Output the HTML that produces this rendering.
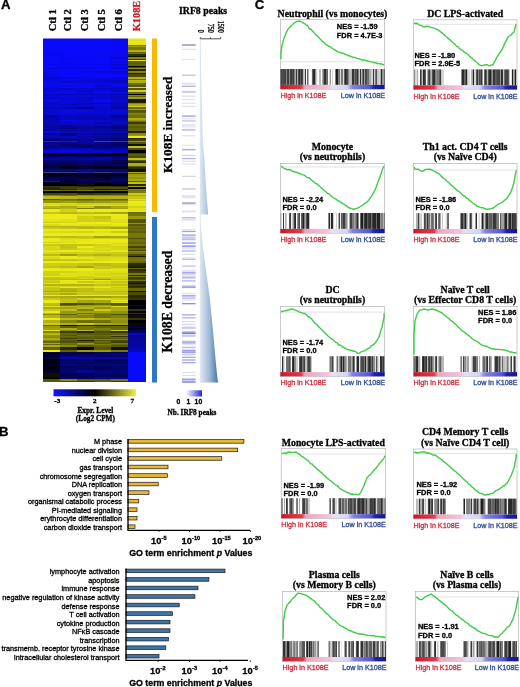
<!DOCTYPE html>
<html><head><meta charset="utf-8"><style>
html,body{margin:0;padding:0;background:#fff;width:520px;height:687px;overflow:hidden}
svg{display:block;filter:blur(0.4px)}
</style></head><body>
<svg width="520" height="687" viewBox="0 0 520 687">
<rect width="520" height="687" fill="#fff"/>
<text stroke="#000" stroke-width="0.3" x="1" y="8.7" font-family="Liberation Sans" font-weight="bold" font-size="13.2">A</text>
<text stroke="#000" stroke-width="0.3" transform="translate(55.7,31.3) rotate(-90)" font-family="Liberation Serif" font-weight="bold" font-size="10.6">Ctl 1</text>
<text stroke="#000" stroke-width="0.3" transform="translate(71.4,31.3) rotate(-90)" font-family="Liberation Serif" font-weight="bold" font-size="10.6">Ctl 2</text>
<text stroke="#000" stroke-width="0.3" transform="translate(87.9,31.3) rotate(-90)" font-family="Liberation Serif" font-weight="bold" font-size="10.6">Ctl 3</text>
<text stroke="#000" stroke-width="0.3" transform="translate(105.0,31.3) rotate(-90)" font-family="Liberation Serif" font-weight="bold" font-size="10.6">Ctl 5</text>
<text stroke="#000" stroke-width="0.3" transform="translate(121.7,31.3) rotate(-90)" font-family="Liberation Serif" font-weight="bold" font-size="10.6">Ctl 6</text>
<text stroke="#c41e24" stroke-width="0.3" transform="translate(140.4,31.3) rotate(-90)" font-family="Liberation Serif" font-weight="bold" font-size="10.4" fill="#c41e24">K108E</text>
<rect x="43" y="39" width="17" height="1" fill="#0a0afa"/>
<rect x="43" y="38.5" width="17" height="0.5" fill="#0a0afa"/>
<rect x="60" y="39" width="17" height="1" fill="#0909ee"/>
<rect x="60" y="38.5" width="17" height="0.5" fill="#0909ee"/>
<rect x="77" y="39" width="17" height="1" fill="#0a0afa"/>
<rect x="77" y="38.5" width="17" height="0.5" fill="#0a0afa"/>
<rect x="94" y="39" width="17" height="1" fill="#0a0afa"/>
<rect x="94" y="38.5" width="17" height="0.5" fill="#0a0afa"/>
<rect x="111" y="39" width="17" height="1" fill="#0808d6"/>
<rect x="111" y="38.5" width="17" height="0.5" fill="#0808d6"/>
<rect x="128" y="39" width="18" height="1" fill="#e7e718"/>
<rect x="128" y="38.5" width="18" height="0.5" fill="#e7e718"/>
<rect x="43" y="40" width="17" height="1" fill="#0a0afa"/>
<rect x="60" y="40" width="17" height="1" fill="#0a0afa"/>
<rect x="77" y="40" width="17" height="1" fill="#0a0afa"/>
<rect x="94" y="40" width="17" height="1" fill="#0a0afa"/>
<rect x="111" y="40" width="17" height="1" fill="#0909f2"/>
<rect x="128" y="40" width="18" height="1" fill="#e1e117"/>
<rect x="43" y="41" width="17" height="2" fill="#0a0afa"/>
<rect x="60" y="41" width="17" height="2" fill="#0a0afa"/>
<rect x="77" y="41" width="17" height="2" fill="#0909f4"/>
<rect x="94" y="41" width="17" height="2" fill="#0a0afa"/>
<rect x="111" y="41" width="17" height="2" fill="#0909f6"/>
<rect x="128" y="41" width="18" height="2" fill="#e8e818"/>
<rect x="43" y="43" width="17" height="2" fill="#0a0afa"/>
<rect x="60" y="43" width="17" height="2" fill="#0a0afa"/>
<rect x="77" y="43" width="17" height="2" fill="#0a0afa"/>
<rect x="94" y="43" width="17" height="2" fill="#0a0afa"/>
<rect x="111" y="43" width="17" height="2" fill="#0909f4"/>
<rect x="128" y="43" width="18" height="2" fill="#e5e518"/>
<rect x="43" y="45" width="17" height="1" fill="#0a0afa"/>
<rect x="60" y="45" width="17" height="1" fill="#0a0afa"/>
<rect x="77" y="45" width="17" height="1" fill="#0909f5"/>
<rect x="94" y="45" width="17" height="1" fill="#0a0afa"/>
<rect x="111" y="45" width="17" height="1" fill="#0909f3"/>
<rect x="128" y="45" width="18" height="1" fill="#7c7c0d"/>
<rect x="43" y="46" width="17" height="1" fill="#0a0afa"/>
<rect x="60" y="46" width="17" height="1" fill="#0a0afa"/>
<rect x="77" y="46" width="17" height="1" fill="#0a0afa"/>
<rect x="94" y="46" width="17" height="1" fill="#0a0afa"/>
<rect x="111" y="46" width="17" height="1" fill="#0a0afa"/>
<rect x="128" y="46" width="18" height="1" fill="#989810"/>
<rect x="43" y="47" width="17" height="3" fill="#0a0afa"/>
<rect x="60" y="47" width="17" height="3" fill="#0a0afa"/>
<rect x="77" y="47" width="17" height="3" fill="#0a0afa"/>
<rect x="94" y="47" width="17" height="3" fill="#0a0afa"/>
<rect x="111" y="47" width="17" height="3" fill="#0909f4"/>
<rect x="128" y="47" width="18" height="3" fill="#77770c"/>
<rect x="43" y="50" width="17" height="2" fill="#0a0afa"/>
<rect x="60" y="50" width="17" height="2" fill="#0a0afa"/>
<rect x="77" y="50" width="17" height="2" fill="#0a0afa"/>
<rect x="94" y="50" width="17" height="2" fill="#0909f9"/>
<rect x="111" y="50" width="17" height="2" fill="#0909f9"/>
<rect x="128" y="50" width="18" height="2" fill="#b3b313"/>
<rect x="43" y="52" width="17" height="1" fill="#0a0afa"/>
<rect x="60" y="52" width="17" height="1" fill="#0909f9"/>
<rect x="77" y="52" width="17" height="1" fill="#0a0afa"/>
<rect x="94" y="52" width="17" height="1" fill="#0a0afa"/>
<rect x="111" y="52" width="17" height="1" fill="#0909ec"/>
<rect x="128" y="52" width="18" height="1" fill="#62620a"/>
<rect x="43" y="53" width="17" height="1" fill="#0909f3"/>
<rect x="60" y="53" width="17" height="1" fill="#0a0afa"/>
<rect x="77" y="53" width="17" height="1" fill="#0a0afa"/>
<rect x="94" y="53" width="17" height="1" fill="#0a0afa"/>
<rect x="111" y="53" width="17" height="1" fill="#0a0afa"/>
<rect x="128" y="53" width="18" height="1" fill="#71710c"/>
<rect x="43" y="54" width="17" height="2" fill="#0909ef"/>
<rect x="60" y="54" width="17" height="2" fill="#0909f3"/>
<rect x="77" y="54" width="17" height="2" fill="#0a0afa"/>
<rect x="94" y="54" width="17" height="2" fill="#0a0afa"/>
<rect x="111" y="54" width="17" height="2" fill="#0909e9"/>
<rect x="128" y="54" width="18" height="2" fill="#2f2f05"/>
<rect x="43" y="56" width="17" height="1" fill="#0a0afa"/>
<rect x="60" y="56" width="17" height="1" fill="#0a0afa"/>
<rect x="77" y="56" width="17" height="1" fill="#0a0afa"/>
<rect x="94" y="56" width="17" height="1" fill="#0909ee"/>
<rect x="111" y="56" width="17" height="1" fill="#0909f5"/>
<rect x="128" y="56" width="18" height="1" fill="#131302"/>
<rect x="43" y="57" width="17" height="2" fill="#0a0afa"/>
<rect x="60" y="57" width="17" height="2" fill="#0909f9"/>
<rect x="77" y="57" width="17" height="2" fill="#0909f9"/>
<rect x="94" y="57" width="17" height="2" fill="#0a0afa"/>
<rect x="111" y="57" width="17" height="2" fill="#0808dc"/>
<rect x="128" y="57" width="18" height="2" fill="#84840e"/>
<rect x="43" y="59" width="17" height="1" fill="#0a0afa"/>
<rect x="60" y="59" width="17" height="1" fill="#0909f8"/>
<rect x="77" y="59" width="17" height="1" fill="#0909ef"/>
<rect x="94" y="59" width="17" height="1" fill="#0a0afa"/>
<rect x="111" y="59" width="17" height="1" fill="#0909f0"/>
<rect x="128" y="59" width="18" height="1" fill="#373705"/>
<rect x="43" y="60" width="17" height="1" fill="#0a0afa"/>
<rect x="60" y="60" width="17" height="1" fill="#0909f4"/>
<rect x="77" y="60" width="17" height="1" fill="#0a0afa"/>
<rect x="94" y="60" width="17" height="1" fill="#0909f6"/>
<rect x="111" y="60" width="17" height="1" fill="#0909f2"/>
<rect x="128" y="60" width="18" height="1" fill="#e7e718"/>
<rect x="43" y="61" width="17" height="1" fill="#0a0afa"/>
<rect x="60" y="61" width="17" height="1" fill="#0a0afa"/>
<rect x="77" y="61" width="17" height="1" fill="#0909f6"/>
<rect x="94" y="61" width="17" height="1" fill="#0a0afa"/>
<rect x="111" y="61" width="17" height="1" fill="#0909ef"/>
<rect x="128" y="61" width="18" height="1" fill="#5f5f0a"/>
<rect x="43" y="62" width="17" height="2" fill="#0a0afa"/>
<rect x="60" y="62" width="17" height="2" fill="#0909f1"/>
<rect x="77" y="62" width="17" height="2" fill="#0a0afa"/>
<rect x="94" y="62" width="17" height="2" fill="#0a0afa"/>
<rect x="111" y="62" width="17" height="2" fill="#0909eb"/>
<rect x="128" y="62" width="18" height="2" fill="#5d5d09"/>
<rect x="43" y="64" width="17" height="2" fill="#0909f4"/>
<rect x="60" y="64" width="17" height="2" fill="#0909ee"/>
<rect x="77" y="64" width="17" height="2" fill="#0909f6"/>
<rect x="94" y="64" width="17" height="2" fill="#0909f1"/>
<rect x="111" y="64" width="17" height="2" fill="#0808d7"/>
<rect x="128" y="64" width="18" height="2" fill="#64640a"/>
<rect x="43" y="66" width="17" height="1" fill="#0a0afa"/>
<rect x="60" y="66" width="17" height="1" fill="#0a0afa"/>
<rect x="77" y="66" width="17" height="1" fill="#0a0afa"/>
<rect x="94" y="66" width="17" height="1" fill="#0a0afa"/>
<rect x="111" y="66" width="17" height="1" fill="#0909f1"/>
<rect x="128" y="66" width="18" height="1" fill="#00000f"/>
<rect x="43" y="67" width="17" height="1" fill="#0a0afa"/>
<rect x="60" y="67" width="17" height="1" fill="#0808d6"/>
<rect x="77" y="67" width="17" height="1" fill="#0909eb"/>
<rect x="94" y="67" width="17" height="1" fill="#0909e6"/>
<rect x="111" y="67" width="17" height="1" fill="#0909e7"/>
<rect x="128" y="67" width="18" height="1" fill="#515108"/>
<rect x="43" y="68" width="17" height="1" fill="#0808d8"/>
<rect x="60" y="68" width="17" height="1" fill="#0909f1"/>
<rect x="77" y="68" width="17" height="1" fill="#0909e8"/>
<rect x="94" y="68" width="17" height="1" fill="#0a0afa"/>
<rect x="111" y="68" width="17" height="1" fill="#0808ca"/>
<rect x="128" y="68" width="18" height="1" fill="#90900f"/>
<rect x="43" y="69" width="17" height="2" fill="#0a0afa"/>
<rect x="60" y="69" width="17" height="2" fill="#0a0afa"/>
<rect x="77" y="69" width="17" height="2" fill="#0a0afa"/>
<rect x="94" y="69" width="17" height="2" fill="#0a0afa"/>
<rect x="111" y="69" width="17" height="2" fill="#0a0afa"/>
<rect x="128" y="69" width="18" height="2" fill="#242403"/>
<rect x="43" y="71" width="17" height="2" fill="#0909f2"/>
<rect x="60" y="71" width="17" height="2" fill="#0a0afa"/>
<rect x="77" y="71" width="17" height="2" fill="#0909ea"/>
<rect x="94" y="71" width="17" height="2" fill="#0909e7"/>
<rect x="111" y="71" width="17" height="2" fill="#0808d1"/>
<rect x="128" y="71" width="18" height="2" fill="#83830e"/>
<rect x="43" y="73" width="17" height="1" fill="#0808e0"/>
<rect x="60" y="73" width="17" height="1" fill="#0909f6"/>
<rect x="77" y="73" width="17" height="1" fill="#0909f4"/>
<rect x="94" y="73" width="17" height="1" fill="#0909f4"/>
<rect x="111" y="73" width="17" height="1" fill="#0808dc"/>
<rect x="128" y="73" width="18" height="1" fill="#252503"/>
<rect x="43" y="74" width="17" height="3" fill="#0909e7"/>
<rect x="60" y="74" width="17" height="3" fill="#0a0afa"/>
<rect x="77" y="74" width="17" height="3" fill="#0a0afa"/>
<rect x="94" y="74" width="17" height="3" fill="#0a0afa"/>
<rect x="111" y="74" width="17" height="3" fill="#0a0afa"/>
<rect x="128" y="74" width="18" height="3" fill="#4c4c08"/>
<rect x="43" y="77" width="17" height="2" fill="#0808d3"/>
<rect x="60" y="77" width="17" height="2" fill="#0808de"/>
<rect x="77" y="77" width="17" height="2" fill="#0909e6"/>
<rect x="94" y="77" width="17" height="2" fill="#0909e1"/>
<rect x="111" y="77" width="17" height="2" fill="#0808d6"/>
<rect x="128" y="77" width="18" height="2" fill="#b4b413"/>
<rect x="43" y="79" width="17" height="1" fill="#0808da"/>
<rect x="60" y="79" width="17" height="1" fill="#0a0afa"/>
<rect x="77" y="79" width="17" height="1" fill="#0909e4"/>
<rect x="94" y="79" width="17" height="1" fill="#0808d8"/>
<rect x="111" y="79" width="17" height="1" fill="#0808d9"/>
<rect x="128" y="79" width="18" height="1" fill="#68680b"/>
<rect x="43" y="80" width="17" height="1" fill="#0909e2"/>
<rect x="60" y="80" width="17" height="1" fill="#0909e1"/>
<rect x="77" y="80" width="17" height="1" fill="#0808cf"/>
<rect x="94" y="80" width="17" height="1" fill="#0808d2"/>
<rect x="111" y="80" width="17" height="1" fill="#0707c4"/>
<rect x="128" y="80" width="18" height="1" fill="#b7b713"/>
<rect x="43" y="81" width="17" height="2" fill="#0909e2"/>
<rect x="60" y="81" width="17" height="2" fill="#0808cd"/>
<rect x="77" y="81" width="17" height="2" fill="#0808d8"/>
<rect x="94" y="81" width="17" height="2" fill="#0808dc"/>
<rect x="111" y="81" width="17" height="2" fill="#0808cd"/>
<rect x="128" y="81" width="18" height="2" fill="#aeae12"/>
<rect x="43" y="83" width="17" height="2" fill="#0909f9"/>
<rect x="60" y="83" width="17" height="2" fill="#0a0afa"/>
<rect x="77" y="83" width="17" height="2" fill="#0909f6"/>
<rect x="94" y="83" width="17" height="2" fill="#0909e4"/>
<rect x="111" y="83" width="17" height="2" fill="#0909ef"/>
<rect x="128" y="83" width="18" height="2" fill="#6b6b0b"/>
<rect x="43" y="85" width="17" height="2" fill="#0909e2"/>
<rect x="60" y="85" width="17" height="2" fill="#0909e4"/>
<rect x="77" y="85" width="17" height="2" fill="#0909eb"/>
<rect x="94" y="85" width="17" height="2" fill="#0808d5"/>
<rect x="111" y="85" width="17" height="2" fill="#0909e2"/>
<rect x="128" y="85" width="18" height="2" fill="#5a5a09"/>
<rect x="43" y="87" width="17" height="1" fill="#0808da"/>
<rect x="60" y="87" width="17" height="1" fill="#0a0afa"/>
<rect x="77" y="87" width="17" height="1" fill="#0909f1"/>
<rect x="94" y="87" width="17" height="1" fill="#0909e5"/>
<rect x="111" y="87" width="17" height="1" fill="#0808cf"/>
<rect x="128" y="87" width="18" height="1" fill="#dcdc17"/>
<rect x="43" y="88" width="17" height="2" fill="#0808d4"/>
<rect x="60" y="88" width="17" height="2" fill="#0808c8"/>
<rect x="77" y="88" width="17" height="2" fill="#0808cf"/>
<rect x="94" y="88" width="17" height="2" fill="#0808cc"/>
<rect x="111" y="88" width="17" height="2" fill="#0707c0"/>
<rect x="128" y="88" width="18" height="2" fill="#555509"/>
<rect x="43" y="90" width="17" height="2" fill="#0808d4"/>
<rect x="60" y="90" width="17" height="2" fill="#0909e8"/>
<rect x="77" y="90" width="17" height="2" fill="#0808cc"/>
<rect x="94" y="90" width="17" height="2" fill="#0909e7"/>
<rect x="111" y="90" width="17" height="2" fill="#0707c6"/>
<rect x="128" y="90" width="18" height="2" fill="#d0d016"/>
<rect x="43" y="92" width="17" height="2" fill="#0909ef"/>
<rect x="60" y="92" width="17" height="2" fill="#0909ec"/>
<rect x="77" y="92" width="17" height="2" fill="#0808de"/>
<rect x="94" y="92" width="17" height="2" fill="#0909ec"/>
<rect x="111" y="92" width="17" height="2" fill="#0909e5"/>
<rect x="128" y="92" width="18" height="2" fill="#6b6b0b"/>
<rect x="43" y="94" width="17" height="1" fill="#0707c5"/>
<rect x="60" y="94" width="17" height="1" fill="#0707b6"/>
<rect x="77" y="94" width="17" height="1" fill="#0707be"/>
<rect x="94" y="94" width="17" height="1" fill="#0707bf"/>
<rect x="111" y="94" width="17" height="1" fill="#0606ad"/>
<rect x="128" y="94" width="18" height="1" fill="#000009"/>
<rect x="43" y="95" width="17" height="1" fill="#0808ce"/>
<rect x="60" y="95" width="17" height="1" fill="#0909e8"/>
<rect x="77" y="95" width="17" height="1" fill="#0808d7"/>
<rect x="94" y="95" width="17" height="1" fill="#0909e6"/>
<rect x="111" y="95" width="17" height="1" fill="#0808d7"/>
<rect x="128" y="95" width="18" height="1" fill="#84840e"/>
<rect x="43" y="96" width="17" height="1" fill="#0909e8"/>
<rect x="60" y="96" width="17" height="1" fill="#0909e4"/>
<rect x="77" y="96" width="17" height="1" fill="#0909e7"/>
<rect x="94" y="96" width="17" height="1" fill="#0808d9"/>
<rect x="111" y="96" width="17" height="1" fill="#0707c7"/>
<rect x="128" y="96" width="18" height="1" fill="#65650a"/>
<rect x="43" y="97" width="17" height="2" fill="#0707c4"/>
<rect x="60" y="97" width="17" height="2" fill="#0808d2"/>
<rect x="77" y="97" width="17" height="2" fill="#0707c0"/>
<rect x="94" y="97" width="17" height="2" fill="#0808cd"/>
<rect x="111" y="97" width="17" height="2" fill="#0707b9"/>
<rect x="128" y="97" width="18" height="2" fill="#9e9e10"/>
<rect x="43" y="99" width="17" height="3" fill="#0909e5"/>
<rect x="60" y="99" width="17" height="3" fill="#0808de"/>
<rect x="77" y="99" width="17" height="3" fill="#0808d0"/>
<rect x="94" y="99" width="17" height="3" fill="#0909f0"/>
<rect x="111" y="99" width="17" height="3" fill="#0808d1"/>
<rect x="128" y="99" width="18" height="3" fill="#171702"/>
<rect x="43" y="102" width="17" height="1" fill="#0707c5"/>
<rect x="60" y="102" width="17" height="1" fill="#0808da"/>
<rect x="77" y="102" width="17" height="1" fill="#0808d5"/>
<rect x="94" y="102" width="17" height="1" fill="#0808d8"/>
<rect x="111" y="102" width="17" height="1" fill="#0707c4"/>
<rect x="128" y="102" width="18" height="1" fill="#232303"/>
<rect x="43" y="103" width="17" height="1" fill="#0808d4"/>
<rect x="60" y="103" width="17" height="1" fill="#0808d5"/>
<rect x="77" y="103" width="17" height="1" fill="#0707b2"/>
<rect x="94" y="103" width="17" height="1" fill="#0707c5"/>
<rect x="111" y="103" width="17" height="1" fill="#0707b2"/>
<rect x="128" y="103" width="18" height="1" fill="#89890e"/>
<rect x="43" y="104" width="17" height="2" fill="#0808c9"/>
<rect x="60" y="104" width="17" height="2" fill="#0707ba"/>
<rect x="77" y="104" width="17" height="2" fill="#0707c6"/>
<rect x="94" y="104" width="17" height="2" fill="#0909e5"/>
<rect x="111" y="104" width="17" height="2" fill="#0707b3"/>
<rect x="128" y="104" width="18" height="2" fill="#acac12"/>
<rect x="43" y="106" width="17" height="1" fill="#0808e0"/>
<rect x="60" y="106" width="17" height="1" fill="#0808d8"/>
<rect x="77" y="106" width="17" height="1" fill="#0808d0"/>
<rect x="94" y="106" width="17" height="1" fill="#0808ce"/>
<rect x="111" y="106" width="17" height="1" fill="#0707bb"/>
<rect x="128" y="106" width="18" height="1" fill="#cfcf16"/>
<rect x="43" y="107" width="17" height="2" fill="#0707b9"/>
<rect x="60" y="107" width="17" height="2" fill="#0707b0"/>
<rect x="77" y="107" width="17" height="2" fill="#05058d"/>
<rect x="94" y="107" width="17" height="2" fill="#0808c8"/>
<rect x="111" y="107" width="17" height="2" fill="#0606a5"/>
<rect x="128" y="107" width="18" height="2" fill="#67670a"/>
<rect x="43" y="109" width="17" height="1" fill="#0808d1"/>
<rect x="60" y="109" width="17" height="1" fill="#0808d5"/>
<rect x="77" y="109" width="17" height="1" fill="#0808d3"/>
<rect x="94" y="109" width="17" height="1" fill="#0808d6"/>
<rect x="111" y="109" width="17" height="1" fill="#0808ca"/>
<rect x="128" y="109" width="18" height="1" fill="#a4a411"/>
<rect x="43" y="110" width="17" height="2" fill="#0808c8"/>
<rect x="60" y="110" width="17" height="2" fill="#0909e6"/>
<rect x="77" y="110" width="17" height="2" fill="#0909e3"/>
<rect x="94" y="110" width="17" height="2" fill="#0808d1"/>
<rect x="111" y="110" width="17" height="2" fill="#0808d3"/>
<rect x="128" y="110" width="18" height="2" fill="#565609"/>
<rect x="43" y="112" width="17" height="1" fill="#0808d3"/>
<rect x="60" y="112" width="17" height="1" fill="#0808d9"/>
<rect x="77" y="112" width="17" height="1" fill="#0808d6"/>
<rect x="94" y="112" width="17" height="1" fill="#0808de"/>
<rect x="111" y="112" width="17" height="1" fill="#0808dd"/>
<rect x="128" y="112" width="18" height="1" fill="#5c5c09"/>
<rect x="43" y="113" width="17" height="2" fill="#0808ce"/>
<rect x="60" y="113" width="17" height="2" fill="#0808da"/>
<rect x="77" y="113" width="17" height="2" fill="#0808d5"/>
<rect x="94" y="113" width="17" height="2" fill="#0808ca"/>
<rect x="111" y="113" width="17" height="2" fill="#0808cd"/>
<rect x="128" y="113" width="18" height="2" fill="#80800d"/>
<rect x="43" y="115" width="17" height="3" fill="#0606a0"/>
<rect x="60" y="115" width="17" height="3" fill="#0707be"/>
<rect x="77" y="115" width="17" height="3" fill="#0707b6"/>
<rect x="94" y="115" width="17" height="3" fill="#0707b9"/>
<rect x="111" y="115" width="17" height="3" fill="#050593"/>
<rect x="128" y="115" width="18" height="3" fill="#6f6f0b"/>
<rect x="43" y="118" width="17" height="2" fill="#0606ae"/>
<rect x="60" y="118" width="17" height="2" fill="#0707c2"/>
<rect x="77" y="118" width="17" height="2" fill="#0707ba"/>
<rect x="94" y="118" width="17" height="2" fill="#0707ba"/>
<rect x="111" y="118" width="17" height="2" fill="#0707be"/>
<rect x="128" y="118" width="18" height="2" fill="#abab12"/>
<rect x="43" y="120" width="17" height="1" fill="#0707c0"/>
<rect x="60" y="120" width="17" height="1" fill="#0909ef"/>
<rect x="77" y="120" width="17" height="1" fill="#0808d4"/>
<rect x="94" y="120" width="17" height="1" fill="#0808ce"/>
<rect x="111" y="120" width="17" height="1" fill="#0707ba"/>
<rect x="128" y="120" width="18" height="1" fill="#94940f"/>
<rect x="43" y="121" width="17" height="1" fill="#0606aa"/>
<rect x="60" y="121" width="17" height="1" fill="#0707c4"/>
<rect x="77" y="121" width="17" height="1" fill="#0808ca"/>
<rect x="94" y="121" width="17" height="1" fill="#0808ce"/>
<rect x="111" y="121" width="17" height="1" fill="#0707bb"/>
<rect x="128" y="121" width="18" height="1" fill="#70700b"/>
<rect x="43" y="122" width="17" height="2" fill="#0707bc"/>
<rect x="60" y="122" width="17" height="2" fill="#0808cc"/>
<rect x="77" y="122" width="17" height="2" fill="#0808ce"/>
<rect x="94" y="122" width="17" height="2" fill="#0707b5"/>
<rect x="111" y="122" width="17" height="2" fill="#0707c6"/>
<rect x="128" y="122" width="18" height="2" fill="#3a3a06"/>
<rect x="43" y="124" width="17" height="2" fill="#0707b0"/>
<rect x="60" y="124" width="17" height="2" fill="#0707af"/>
<rect x="77" y="124" width="17" height="2" fill="#0707c3"/>
<rect x="94" y="124" width="17" height="2" fill="#0707c5"/>
<rect x="111" y="124" width="17" height="2" fill="#0606a1"/>
<rect x="128" y="124" width="18" height="2" fill="#6d6d0b"/>
<rect x="43" y="126" width="17" height="2" fill="#0606a2"/>
<rect x="60" y="126" width="17" height="2" fill="#050594"/>
<rect x="77" y="126" width="17" height="2" fill="#060698"/>
<rect x="94" y="126" width="17" height="2" fill="#05058c"/>
<rect x="111" y="126" width="17" height="2" fill="#050582"/>
<rect x="128" y="126" width="18" height="2" fill="#5b5b09"/>
<rect x="43" y="128" width="17" height="1" fill="#0606aa"/>
<rect x="60" y="128" width="17" height="1" fill="#050584"/>
<rect x="77" y="128" width="17" height="1" fill="#06069c"/>
<rect x="94" y="128" width="17" height="1" fill="#0606a0"/>
<rect x="111" y="128" width="17" height="1" fill="#050583"/>
<rect x="128" y="128" width="18" height="1" fill="#67670a"/>
<rect x="43" y="129" width="17" height="1" fill="#0606a4"/>
<rect x="60" y="129" width="17" height="1" fill="#0707bc"/>
<rect x="77" y="129" width="17" height="1" fill="#0707b8"/>
<rect x="94" y="129" width="17" height="1" fill="#0707b4"/>
<rect x="111" y="129" width="17" height="1" fill="#0707b8"/>
<rect x="128" y="129" width="18" height="1" fill="#62620a"/>
<rect x="43" y="130" width="17" height="1" fill="#0606a6"/>
<rect x="60" y="130" width="17" height="1" fill="#050592"/>
<rect x="77" y="130" width="17" height="1" fill="#06069d"/>
<rect x="94" y="130" width="17" height="1" fill="#0606a9"/>
<rect x="111" y="130" width="17" height="1" fill="#050588"/>
<rect x="128" y="130" width="18" height="1" fill="#6c6c0b"/>
<rect x="43" y="131" width="17" height="2" fill="#0808de"/>
<rect x="60" y="131" width="17" height="2" fill="#0707c4"/>
<rect x="77" y="131" width="17" height="2" fill="#0707c6"/>
<rect x="94" y="131" width="17" height="2" fill="#0707b8"/>
<rect x="111" y="131" width="17" height="2" fill="#0707bd"/>
<rect x="128" y="131" width="18" height="2" fill="#222203"/>
<rect x="43" y="133" width="17" height="2" fill="#06069a"/>
<rect x="60" y="133" width="17" height="2" fill="#050583"/>
<rect x="77" y="133" width="17" height="2" fill="#0606ac"/>
<rect x="94" y="133" width="17" height="2" fill="#05058e"/>
<rect x="111" y="133" width="17" height="2" fill="#050591"/>
<rect x="128" y="133" width="18" height="2" fill="#88880e"/>
<rect x="43" y="135" width="17" height="1" fill="#0707b4"/>
<rect x="60" y="135" width="17" height="1" fill="#05058d"/>
<rect x="77" y="135" width="17" height="1" fill="#0707b3"/>
<rect x="94" y="135" width="17" height="1" fill="#0606ab"/>
<rect x="111" y="135" width="17" height="1" fill="#060697"/>
<rect x="128" y="135" width="18" height="1" fill="#9a9a10"/>
<rect x="43" y="136" width="17" height="2" fill="#0707bb"/>
<rect x="60" y="136" width="17" height="2" fill="#0707c6"/>
<rect x="77" y="136" width="17" height="2" fill="#0606a4"/>
<rect x="94" y="136" width="17" height="2" fill="#0606a2"/>
<rect x="111" y="136" width="17" height="2" fill="#050592"/>
<rect x="128" y="136" width="18" height="2" fill="#ebeb19"/>
<rect x="43" y="138" width="17" height="1" fill="#060699"/>
<rect x="60" y="138" width="17" height="1" fill="#06069c"/>
<rect x="77" y="138" width="17" height="1" fill="#0707b2"/>
<rect x="94" y="138" width="17" height="1" fill="#05058c"/>
<rect x="111" y="138" width="17" height="1" fill="#04047c"/>
<rect x="128" y="138" width="18" height="1" fill="#292904"/>
<rect x="43" y="139" width="17" height="2" fill="#04047a"/>
<rect x="60" y="139" width="17" height="2" fill="#060697"/>
<rect x="77" y="139" width="17" height="2" fill="#06069b"/>
<rect x="94" y="139" width="17" height="2" fill="#050590"/>
<rect x="111" y="139" width="17" height="2" fill="#040472"/>
<rect x="128" y="139" width="18" height="2" fill="#414107"/>
<rect x="43" y="141" width="17" height="1" fill="#292990"/>
<rect x="60" y="141" width="17" height="1" fill="#1d1d98"/>
<rect x="77" y="141" width="17" height="1" fill="#060698"/>
<rect x="94" y="141" width="17" height="1" fill="#3e3e7c"/>
<rect x="111" y="141" width="17" height="1" fill="#393977"/>
<rect x="128" y="141" width="18" height="1" fill="#969610"/>
<rect x="43" y="142" width="17" height="2" fill="#050595"/>
<rect x="60" y="142" width="17" height="2" fill="#05058f"/>
<rect x="77" y="142" width="17" height="2" fill="#06069d"/>
<rect x="94" y="142" width="17" height="2" fill="#05058f"/>
<rect x="111" y="142" width="17" height="2" fill="#040478"/>
<rect x="128" y="142" width="18" height="2" fill="#545409"/>
<rect x="43" y="144" width="17" height="2" fill="#05058e"/>
<rect x="60" y="144" width="17" height="2" fill="#040468"/>
<rect x="77" y="144" width="17" height="2" fill="#040470"/>
<rect x="94" y="144" width="17" height="2" fill="#04047a"/>
<rect x="111" y="144" width="17" height="2" fill="#030363"/>
<rect x="128" y="144" width="18" height="2" fill="#111101"/>
<rect x="43" y="146" width="17" height="2" fill="#050580"/>
<rect x="60" y="146" width="17" height="2" fill="#050583"/>
<rect x="77" y="146" width="17" height="2" fill="#04046a"/>
<rect x="94" y="146" width="17" height="2" fill="#040479"/>
<rect x="111" y="146" width="17" height="2" fill="#040473"/>
<rect x="128" y="146" width="18" height="2" fill="#c1c114"/>
<rect x="43" y="148" width="17" height="2" fill="#0606a9"/>
<rect x="60" y="148" width="17" height="2" fill="#0707b9"/>
<rect x="77" y="148" width="17" height="2" fill="#0707b6"/>
<rect x="94" y="148" width="17" height="2" fill="#050593"/>
<rect x="111" y="148" width="17" height="2" fill="#0606a8"/>
<rect x="128" y="148" width="18" height="2" fill="#4b4b08"/>
<rect x="43" y="150" width="17" height="3" fill="#0808d4"/>
<rect x="60" y="150" width="17" height="3" fill="#0808dd"/>
<rect x="77" y="150" width="17" height="3" fill="#0808d2"/>
<rect x="94" y="150" width="17" height="3" fill="#0808d1"/>
<rect x="111" y="150" width="17" height="3" fill="#0707bf"/>
<rect x="128" y="150" width="18" height="3" fill="#000010"/>
<rect x="43" y="153" width="17" height="1" fill="#030353"/>
<rect x="60" y="153" width="17" height="1" fill="#030357"/>
<rect x="77" y="153" width="17" height="1" fill="#030354"/>
<rect x="94" y="153" width="17" height="1" fill="#020248"/>
<rect x="111" y="153" width="17" height="1" fill="#010126"/>
<rect x="128" y="153" width="18" height="1" fill="#454507"/>
<rect x="43" y="154" width="17" height="2" fill="#000018"/>
<rect x="60" y="154" width="17" height="2" fill="#00000a"/>
<rect x="77" y="154" width="17" height="2" fill="#01011e"/>
<rect x="94" y="154" width="17" height="2" fill="#00000a"/>
<rect x="111" y="154" width="17" height="2" fill="#070700"/>
<rect x="128" y="154" width="18" height="2" fill="#5b5b09"/>
<rect x="43" y="156" width="17" height="2" fill="#04047a"/>
<rect x="60" y="156" width="17" height="2" fill="#050594"/>
<rect x="77" y="156" width="17" height="2" fill="#040477"/>
<rect x="94" y="156" width="17" height="2" fill="#050594"/>
<rect x="111" y="156" width="17" height="2" fill="#040477"/>
<rect x="128" y="156" width="18" height="2" fill="#4c4c08"/>
<rect x="43" y="158" width="17" height="2" fill="#0606a4"/>
<rect x="60" y="158" width="17" height="2" fill="#050594"/>
<rect x="77" y="158" width="17" height="2" fill="#06069e"/>
<rect x="94" y="158" width="17" height="2" fill="#0606a4"/>
<rect x="111" y="158" width="17" height="2" fill="#050587"/>
<rect x="128" y="158" width="18" height="2" fill="#c1c114"/>
<rect x="43" y="160" width="17" height="1" fill="#040473"/>
<rect x="60" y="160" width="17" height="1" fill="#040474"/>
<rect x="77" y="160" width="17" height="1" fill="#050580"/>
<rect x="94" y="160" width="17" height="1" fill="#040479"/>
<rect x="111" y="160" width="17" height="1" fill="#02024a"/>
<rect x="128" y="160" width="18" height="1" fill="#5e5e0a"/>
<rect x="43" y="161" width="17" height="1" fill="#040477"/>
<rect x="60" y="161" width="17" height="1" fill="#040472"/>
<rect x="77" y="161" width="17" height="1" fill="#04046b"/>
<rect x="94" y="161" width="17" height="1" fill="#04046f"/>
<rect x="111" y="161" width="17" height="1" fill="#040469"/>
<rect x="128" y="161" width="18" height="1" fill="#343405"/>
<rect x="43" y="162" width="17" height="1" fill="#040476"/>
<rect x="60" y="162" width="17" height="1" fill="#03035e"/>
<rect x="77" y="162" width="17" height="1" fill="#040470"/>
<rect x="94" y="162" width="17" height="1" fill="#040479"/>
<rect x="111" y="162" width="17" height="1" fill="#02024a"/>
<rect x="128" y="162" width="18" height="1" fill="#2c2c04"/>
<rect x="43" y="163" width="17" height="3" fill="#030351"/>
<rect x="60" y="163" width="17" height="3" fill="#030352"/>
<rect x="77" y="163" width="17" height="3" fill="#040467"/>
<rect x="94" y="163" width="17" height="3" fill="#030353"/>
<rect x="111" y="163" width="17" height="3" fill="#03035f"/>
<rect x="128" y="163" width="18" height="3" fill="#afaf12"/>
<rect x="43" y="166" width="17" height="1" fill="#020237"/>
<rect x="60" y="166" width="17" height="1" fill="#01012e"/>
<rect x="77" y="166" width="17" height="1" fill="#010128"/>
<rect x="94" y="166" width="17" height="1" fill="#010122"/>
<rect x="111" y="166" width="17" height="1" fill="#01012f"/>
<rect x="128" y="166" width="18" height="1" fill="#5b5b09"/>
<rect x="43" y="167" width="17" height="2" fill="#020249"/>
<rect x="60" y="167" width="17" height="2" fill="#000013"/>
<rect x="77" y="167" width="17" height="2" fill="#020234"/>
<rect x="94" y="167" width="17" height="2" fill="#01012b"/>
<rect x="111" y="167" width="17" height="2" fill="#000012"/>
<rect x="128" y="167" width="18" height="2" fill="#2a2a04"/>
<rect x="43" y="169" width="17" height="3" fill="#050586"/>
<rect x="60" y="169" width="17" height="3" fill="#05058c"/>
<rect x="77" y="169" width="17" height="3" fill="#0606a2"/>
<rect x="94" y="169" width="17" height="3" fill="#050588"/>
<rect x="111" y="169" width="17" height="3" fill="#05057d"/>
<rect x="128" y="169" width="18" height="3" fill="#111101"/>
<rect x="43" y="172" width="17" height="1" fill="#3f3f79"/>
<rect x="60" y="172" width="17" height="1" fill="#3d3d74"/>
<rect x="77" y="172" width="17" height="1" fill="#26268c"/>
<rect x="94" y="172" width="17" height="1" fill="#3d3d6c"/>
<rect x="111" y="172" width="17" height="1" fill="#232373"/>
<rect x="128" y="172" width="18" height="1" fill="#a4a411"/>
<rect x="43" y="173" width="17" height="1" fill="#020235"/>
<rect x="60" y="173" width="17" height="1" fill="#020233"/>
<rect x="77" y="173" width="17" height="1" fill="#02023a"/>
<rect x="94" y="173" width="17" height="1" fill="#010129"/>
<rect x="111" y="173" width="17" height="1" fill="#02023f"/>
<rect x="128" y="173" width="18" height="1" fill="#5b5b09"/>
<rect x="43" y="174" width="17" height="2" fill="#000014"/>
<rect x="60" y="174" width="17" height="2" fill="#01011e"/>
<rect x="77" y="174" width="17" height="2" fill="#010122"/>
<rect x="94" y="174" width="17" height="2" fill="#010126"/>
<rect x="111" y="174" width="17" height="2" fill="#010122"/>
<rect x="128" y="174" width="18" height="2" fill="#9b9b10"/>
<rect x="43" y="176" width="17" height="1" fill="#01012d"/>
<rect x="60" y="176" width="17" height="1" fill="#020240"/>
<rect x="77" y="176" width="17" height="1" fill="#01012c"/>
<rect x="94" y="176" width="17" height="1" fill="#01012f"/>
<rect x="111" y="176" width="17" height="1" fill="#02023e"/>
<rect x="128" y="176" width="18" height="1" fill="#a5a511"/>
<rect x="43" y="177" width="17" height="2" fill="#02024a"/>
<rect x="60" y="177" width="17" height="2" fill="#03034b"/>
<rect x="77" y="177" width="17" height="2" fill="#02023d"/>
<rect x="94" y="177" width="17" height="2" fill="#020236"/>
<rect x="111" y="177" width="17" height="2" fill="#03034f"/>
<rect x="128" y="177" width="18" height="2" fill="#94940f"/>
<rect x="43" y="179" width="17" height="2" fill="#040464"/>
<rect x="60" y="179" width="17" height="2" fill="#02023c"/>
<rect x="77" y="179" width="17" height="2" fill="#03035f"/>
<rect x="94" y="179" width="17" height="2" fill="#02024a"/>
<rect x="111" y="179" width="17" height="2" fill="#030361"/>
<rect x="128" y="179" width="18" height="2" fill="#aaaa12"/>
<rect x="43" y="181" width="17" height="1" fill="#292904"/>
<rect x="60" y="181" width="17" height="1" fill="#00000f"/>
<rect x="77" y="181" width="17" height="1" fill="#0a0a01"/>
<rect x="94" y="181" width="17" height="1" fill="#151502"/>
<rect x="111" y="181" width="17" height="1" fill="#0e0e01"/>
<rect x="128" y="181" width="18" height="1" fill="#5c5c09"/>
<rect x="43" y="182" width="17" height="2" fill="#01011a"/>
<rect x="60" y="182" width="17" height="2" fill="#020233"/>
<rect x="77" y="182" width="17" height="2" fill="#020249"/>
<rect x="94" y="182" width="17" height="2" fill="#01012a"/>
<rect x="111" y="182" width="17" height="2" fill="#02024a"/>
<rect x="128" y="182" width="18" height="2" fill="#bfbf14"/>
<rect x="43" y="184" width="17" height="2" fill="#000007"/>
<rect x="60" y="184" width="17" height="2" fill="#010100"/>
<rect x="77" y="184" width="17" height="2" fill="#0e0e01"/>
<rect x="94" y="184" width="17" height="2" fill="#010100"/>
<rect x="111" y="184" width="17" height="2" fill="#000011"/>
<rect x="128" y="184" width="18" height="2" fill="#272704"/>
<rect x="43" y="186" width="17" height="1" fill="#3a3a06"/>
<rect x="60" y="186" width="17" height="1" fill="#353505"/>
<rect x="77" y="186" width="17" height="1" fill="#232303"/>
<rect x="94" y="186" width="17" height="1" fill="#363605"/>
<rect x="111" y="186" width="17" height="1" fill="#323205"/>
<rect x="128" y="186" width="18" height="1" fill="#a8a811"/>
<rect x="43" y="187" width="17" height="2" fill="#282804"/>
<rect x="60" y="187" width="17" height="2" fill="#3f3f06"/>
<rect x="77" y="187" width="17" height="2" fill="#4d4d08"/>
<rect x="94" y="187" width="17" height="2" fill="#4b4b08"/>
<rect x="111" y="187" width="17" height="2" fill="#4d4d08"/>
<rect x="128" y="187" width="18" height="2" fill="#010100"/>
<rect x="43" y="189" width="17" height="1" fill="#222203"/>
<rect x="60" y="189" width="17" height="1" fill="#262604"/>
<rect x="77" y="189" width="17" height="1" fill="#3e3e06"/>
<rect x="94" y="189" width="17" height="1" fill="#151502"/>
<rect x="111" y="189" width="17" height="1" fill="#1c1c03"/>
<rect x="128" y="189" width="18" height="1" fill="#89890e"/>
<rect x="43" y="190" width="17" height="1" fill="#76760c"/>
<rect x="60" y="190" width="17" height="1" fill="#66660a"/>
<rect x="77" y="190" width="17" height="1" fill="#79790c"/>
<rect x="94" y="190" width="17" height="1" fill="#62620a"/>
<rect x="111" y="190" width="17" height="1" fill="#6f6f0b"/>
<rect x="128" y="190" width="18" height="1" fill="#70700b"/>
<rect x="43" y="191" width="17" height="2" fill="#000014"/>
<rect x="60" y="191" width="17" height="2" fill="#01011f"/>
<rect x="77" y="191" width="17" height="2" fill="#01012a"/>
<rect x="94" y="191" width="17" height="2" fill="#000008"/>
<rect x="111" y="191" width="17" height="2" fill="#000012"/>
<rect x="128" y="191" width="18" height="2" fill="#7c7c0d"/>
<rect x="43" y="193" width="17" height="2" fill="#454507"/>
<rect x="60" y="193" width="17" height="2" fill="#4e4e08"/>
<rect x="77" y="193" width="17" height="2" fill="#373705"/>
<rect x="94" y="193" width="17" height="2" fill="#414107"/>
<rect x="111" y="193" width="17" height="2" fill="#494907"/>
<rect x="128" y="193" width="18" height="2" fill="#caca15"/>
<rect x="43" y="195" width="17" height="1" fill="#85850e"/>
<rect x="60" y="195" width="17" height="1" fill="#70700b"/>
<rect x="77" y="195" width="17" height="1" fill="#979710"/>
<rect x="94" y="195" width="17" height="1" fill="#8c8c0e"/>
<rect x="111" y="195" width="17" height="1" fill="#89890e"/>
<rect x="128" y="195" width="18" height="1" fill="#acac12"/>
<rect x="43" y="196" width="17" height="3" fill="#bdbd14"/>
<rect x="60" y="196" width="17" height="3" fill="#b5b513"/>
<rect x="77" y="196" width="17" height="3" fill="#aeae12"/>
<rect x="94" y="196" width="17" height="3" fill="#b1b112"/>
<rect x="111" y="196" width="17" height="3" fill="#b3b313"/>
<rect x="128" y="196" width="18" height="3" fill="#c6c615"/>
<rect x="43" y="199" width="17" height="1" fill="#575709"/>
<rect x="60" y="199" width="17" height="1" fill="#6c6c0b"/>
<rect x="77" y="199" width="17" height="1" fill="#555509"/>
<rect x="94" y="199" width="17" height="1" fill="#6d6d0b"/>
<rect x="111" y="199" width="17" height="1" fill="#595909"/>
<rect x="128" y="199" width="18" height="1" fill="#e4e418"/>
<rect x="43" y="200" width="17" height="1" fill="#92920f"/>
<rect x="60" y="200" width="17" height="1" fill="#84840e"/>
<rect x="77" y="200" width="17" height="1" fill="#79790c"/>
<rect x="94" y="200" width="17" height="1" fill="#82820d"/>
<rect x="111" y="200" width="17" height="1" fill="#83830e"/>
<rect x="128" y="200" width="18" height="1" fill="#cece15"/>
<rect x="43" y="201" width="17" height="2" fill="#94940f"/>
<rect x="60" y="201" width="17" height="2" fill="#9d9d10"/>
<rect x="77" y="201" width="17" height="2" fill="#95950f"/>
<rect x="94" y="201" width="17" height="2" fill="#9c9c10"/>
<rect x="111" y="201" width="17" height="2" fill="#a4a411"/>
<rect x="128" y="201" width="18" height="2" fill="#ebeb19"/>
<rect x="43" y="203" width="17" height="2" fill="#dcdc17"/>
<rect x="60" y="203" width="17" height="2" fill="#d8d817"/>
<rect x="77" y="203" width="17" height="2" fill="#cece15"/>
<rect x="94" y="203" width="17" height="2" fill="#d1d116"/>
<rect x="111" y="203" width="17" height="2" fill="#cece15"/>
<rect x="128" y="203" width="18" height="2" fill="#e6e618"/>
<rect x="43" y="205" width="17" height="1" fill="#e4e418"/>
<rect x="60" y="205" width="17" height="1" fill="#d1d116"/>
<rect x="77" y="205" width="17" height="1" fill="#e2e218"/>
<rect x="94" y="205" width="17" height="1" fill="#e5e518"/>
<rect x="111" y="205" width="17" height="1" fill="#dada17"/>
<rect x="128" y="205" width="18" height="1" fill="#eaea18"/>
<rect x="43" y="206" width="17" height="2" fill="#b4b413"/>
<rect x="60" y="206" width="17" height="2" fill="#acac12"/>
<rect x="77" y="206" width="17" height="2" fill="#c6c615"/>
<rect x="94" y="206" width="17" height="2" fill="#8f8f0f"/>
<rect x="111" y="206" width="17" height="2" fill="#abab12"/>
<rect x="128" y="206" width="18" height="2" fill="#d1d116"/>
<rect x="43" y="208" width="17" height="1" fill="#a3a311"/>
<rect x="60" y="208" width="17" height="1" fill="#b7b713"/>
<rect x="77" y="208" width="17" height="1" fill="#7b7b0d"/>
<rect x="94" y="208" width="17" height="1" fill="#999910"/>
<rect x="111" y="208" width="17" height="1" fill="#9e9e10"/>
<rect x="128" y="208" width="18" height="1" fill="#e6e618"/>
<rect x="43" y="209" width="17" height="3" fill="#ebeb19"/>
<rect x="60" y="209" width="17" height="3" fill="#d1d116"/>
<rect x="77" y="209" width="17" height="3" fill="#ebeb19"/>
<rect x="94" y="209" width="17" height="3" fill="#ebeb19"/>
<rect x="111" y="209" width="17" height="3" fill="#ebeb19"/>
<rect x="128" y="209" width="18" height="3" fill="#e2e218"/>
<rect x="43" y="212" width="17" height="2" fill="#c7c715"/>
<rect x="60" y="212" width="17" height="2" fill="#baba13"/>
<rect x="77" y="212" width="17" height="2" fill="#c2c214"/>
<rect x="94" y="212" width="17" height="2" fill="#baba13"/>
<rect x="111" y="212" width="17" height="2" fill="#a5a511"/>
<rect x="128" y="212" width="18" height="2" fill="#70700b"/>
<rect x="43" y="214" width="17" height="2" fill="#ebeb19"/>
<rect x="60" y="214" width="17" height="2" fill="#ebeb19"/>
<rect x="77" y="214" width="17" height="2" fill="#e3e318"/>
<rect x="94" y="214" width="17" height="2" fill="#ebeb19"/>
<rect x="111" y="214" width="17" height="2" fill="#ebeb19"/>
<rect x="128" y="214" width="18" height="2" fill="#74740c"/>
<rect x="43" y="216" width="17" height="3" fill="#ebeb19"/>
<rect x="60" y="216" width="17" height="3" fill="#ebeb19"/>
<rect x="77" y="216" width="17" height="3" fill="#d1d116"/>
<rect x="94" y="216" width="17" height="3" fill="#c5c515"/>
<rect x="111" y="216" width="17" height="3" fill="#e6e618"/>
<rect x="128" y="216" width="18" height="3" fill="#9a9a10"/>
<rect x="43" y="219" width="17" height="3" fill="#e3e318"/>
<rect x="60" y="219" width="17" height="3" fill="#e1e118"/>
<rect x="77" y="219" width="17" height="3" fill="#d0d016"/>
<rect x="94" y="219" width="17" height="3" fill="#cfcf16"/>
<rect x="111" y="219" width="17" height="3" fill="#e2e218"/>
<rect x="128" y="219" width="18" height="3" fill="#545408"/>
<rect x="43" y="222" width="17" height="1" fill="#cdcd15"/>
<rect x="60" y="222" width="17" height="1" fill="#d6d616"/>
<rect x="77" y="222" width="17" height="1" fill="#ebeb19"/>
<rect x="94" y="222" width="17" height="1" fill="#ebeb19"/>
<rect x="111" y="222" width="17" height="1" fill="#dada17"/>
<rect x="128" y="222" width="18" height="1" fill="#585809"/>
<rect x="43" y="223" width="17" height="1" fill="#ebeb19"/>
<rect x="60" y="223" width="17" height="1" fill="#ebeb19"/>
<rect x="77" y="223" width="17" height="1" fill="#ebeb19"/>
<rect x="94" y="223" width="17" height="1" fill="#ebeb19"/>
<rect x="111" y="223" width="17" height="1" fill="#ebeb19"/>
<rect x="128" y="223" width="18" height="1" fill="#91910f"/>
<rect x="43" y="224" width="17" height="2" fill="#dcdc17"/>
<rect x="60" y="224" width="17" height="2" fill="#e6e618"/>
<rect x="77" y="224" width="17" height="2" fill="#e3e318"/>
<rect x="94" y="224" width="17" height="2" fill="#e0e017"/>
<rect x="111" y="224" width="17" height="2" fill="#e7e718"/>
<rect x="128" y="224" width="18" height="2" fill="#585809"/>
<rect x="43" y="226" width="17" height="1" fill="#b6b613"/>
<rect x="60" y="226" width="17" height="1" fill="#b2b212"/>
<rect x="77" y="226" width="17" height="1" fill="#bdbd14"/>
<rect x="94" y="226" width="17" height="1" fill="#c3c314"/>
<rect x="111" y="226" width="17" height="1" fill="#cccc15"/>
<rect x="128" y="226" width="18" height="1" fill="#6d6d0b"/>
<rect x="43" y="227" width="17" height="2" fill="#c8c815"/>
<rect x="60" y="227" width="17" height="2" fill="#c3c314"/>
<rect x="77" y="227" width="17" height="2" fill="#b8b813"/>
<rect x="94" y="227" width="17" height="2" fill="#b9b913"/>
<rect x="111" y="227" width="17" height="2" fill="#a8a811"/>
<rect x="128" y="227" width="18" height="2" fill="#66660a"/>
<rect x="43" y="229" width="17" height="2" fill="#ebeb19"/>
<rect x="60" y="229" width="17" height="2" fill="#ebeb19"/>
<rect x="77" y="229" width="17" height="2" fill="#ebeb19"/>
<rect x="94" y="229" width="17" height="2" fill="#ebeb19"/>
<rect x="111" y="229" width="17" height="2" fill="#ebeb19"/>
<rect x="128" y="229" width="18" height="2" fill="#6a6a0b"/>
<rect x="43" y="231" width="17" height="2" fill="#dcdc17"/>
<rect x="60" y="231" width="17" height="2" fill="#dada17"/>
<rect x="77" y="231" width="17" height="2" fill="#d5d516"/>
<rect x="94" y="231" width="17" height="2" fill="#e2e218"/>
<rect x="111" y="231" width="17" height="2" fill="#cccc15"/>
<rect x="128" y="231" width="18" height="2" fill="#5f5f0a"/>
<rect x="43" y="233" width="17" height="3" fill="#ebeb19"/>
<rect x="60" y="233" width="17" height="3" fill="#ebeb19"/>
<rect x="77" y="233" width="17" height="3" fill="#ebeb19"/>
<rect x="94" y="233" width="17" height="3" fill="#ebeb19"/>
<rect x="111" y="233" width="17" height="3" fill="#ebeb19"/>
<rect x="128" y="233" width="18" height="3" fill="#78780c"/>
<rect x="43" y="236" width="17" height="2" fill="#c2c214"/>
<rect x="60" y="236" width="17" height="2" fill="#bdbd14"/>
<rect x="77" y="236" width="17" height="2" fill="#c2c214"/>
<rect x="94" y="236" width="17" height="2" fill="#a5a511"/>
<rect x="111" y="236" width="17" height="2" fill="#acac12"/>
<rect x="128" y="236" width="18" height="2" fill="#74740c"/>
<rect x="43" y="238" width="17" height="1" fill="#e8e818"/>
<rect x="60" y="238" width="17" height="1" fill="#d8d817"/>
<rect x="77" y="238" width="17" height="1" fill="#cdcd15"/>
<rect x="94" y="238" width="17" height="1" fill="#d3d316"/>
<rect x="111" y="238" width="17" height="1" fill="#cfcf16"/>
<rect x="128" y="238" width="18" height="1" fill="#4e4e08"/>
<rect x="43" y="239" width="17" height="3" fill="#ebeb19"/>
<rect x="60" y="239" width="17" height="3" fill="#e2e218"/>
<rect x="77" y="239" width="17" height="3" fill="#e9e918"/>
<rect x="94" y="239" width="17" height="3" fill="#ebeb19"/>
<rect x="111" y="239" width="17" height="3" fill="#ebeb19"/>
<rect x="128" y="239" width="18" height="3" fill="#6f6f0b"/>
<rect x="43" y="242" width="17" height="1" fill="#d3d316"/>
<rect x="60" y="242" width="17" height="1" fill="#dfdf17"/>
<rect x="77" y="242" width="17" height="1" fill="#ebeb19"/>
<rect x="94" y="242" width="17" height="1" fill="#e1e118"/>
<rect x="111" y="242" width="17" height="1" fill="#e9e918"/>
<rect x="128" y="242" width="18" height="1" fill="#68680b"/>
<rect x="43" y="243" width="17" height="1" fill="#ebeb19"/>
<rect x="60" y="243" width="17" height="1" fill="#ebeb19"/>
<rect x="77" y="243" width="17" height="1" fill="#ebeb19"/>
<rect x="94" y="243" width="17" height="1" fill="#ebeb19"/>
<rect x="111" y="243" width="17" height="1" fill="#dddd17"/>
<rect x="128" y="243" width="18" height="1" fill="#63630a"/>
<rect x="43" y="244" width="17" height="2" fill="#cccc15"/>
<rect x="60" y="244" width="17" height="2" fill="#c3c314"/>
<rect x="77" y="244" width="17" height="2" fill="#c6c615"/>
<rect x="94" y="244" width="17" height="2" fill="#d3d316"/>
<rect x="111" y="244" width="17" height="2" fill="#e1e117"/>
<rect x="128" y="244" width="18" height="2" fill="#76760c"/>
<rect x="43" y="246" width="17" height="2" fill="#d9d917"/>
<rect x="60" y="246" width="17" height="2" fill="#c3c314"/>
<rect x="77" y="246" width="17" height="2" fill="#ebeb19"/>
<rect x="94" y="246" width="17" height="2" fill="#d6d616"/>
<rect x="111" y="246" width="17" height="2" fill="#d5d516"/>
<rect x="128" y="246" width="18" height="2" fill="#444407"/>
<rect x="43" y="248" width="17" height="2" fill="#d7d716"/>
<rect x="60" y="248" width="17" height="2" fill="#caca15"/>
<rect x="77" y="248" width="17" height="2" fill="#d8d817"/>
<rect x="94" y="248" width="17" height="2" fill="#dddd17"/>
<rect x="111" y="248" width="17" height="2" fill="#d8d816"/>
<rect x="128" y="248" width="18" height="2" fill="#6a6a0b"/>
<rect x="43" y="250" width="17" height="1" fill="#e0e017"/>
<rect x="60" y="250" width="17" height="1" fill="#ebeb19"/>
<rect x="77" y="250" width="17" height="1" fill="#e3e318"/>
<rect x="94" y="250" width="17" height="1" fill="#d5d516"/>
<rect x="111" y="250" width="17" height="1" fill="#e8e818"/>
<rect x="128" y="250" width="18" height="1" fill="#4c4c08"/>
<rect x="43" y="251" width="17" height="1" fill="#ebeb19"/>
<rect x="60" y="251" width="17" height="1" fill="#ebeb19"/>
<rect x="77" y="251" width="17" height="1" fill="#ebeb19"/>
<rect x="94" y="251" width="17" height="1" fill="#e9e918"/>
<rect x="111" y="251" width="17" height="1" fill="#ebeb19"/>
<rect x="128" y="251" width="18" height="1" fill="#89890e"/>
<rect x="43" y="252" width="17" height="2" fill="#d8d817"/>
<rect x="60" y="252" width="17" height="2" fill="#cece15"/>
<rect x="77" y="252" width="17" height="2" fill="#d2d216"/>
<rect x="94" y="252" width="17" height="2" fill="#cfcf16"/>
<rect x="111" y="252" width="17" height="2" fill="#cfcf16"/>
<rect x="128" y="252" width="18" height="2" fill="#75750c"/>
<rect x="43" y="254" width="17" height="2" fill="#bbbb13"/>
<rect x="60" y="254" width="17" height="2" fill="#a0a011"/>
<rect x="77" y="254" width="17" height="2" fill="#bcbc14"/>
<rect x="94" y="254" width="17" height="2" fill="#b2b212"/>
<rect x="111" y="254" width="17" height="2" fill="#c4c414"/>
<rect x="128" y="254" width="18" height="2" fill="#4d4d08"/>
<rect x="43" y="256" width="17" height="1" fill="#e2e218"/>
<rect x="60" y="256" width="17" height="1" fill="#ebeb19"/>
<rect x="77" y="256" width="17" height="1" fill="#d4d416"/>
<rect x="94" y="256" width="17" height="1" fill="#d3d316"/>
<rect x="111" y="256" width="17" height="1" fill="#cfcf16"/>
<rect x="128" y="256" width="18" height="1" fill="#1a1a02"/>
<rect x="43" y="257" width="17" height="2" fill="#d9d917"/>
<rect x="60" y="257" width="17" height="2" fill="#ebeb19"/>
<rect x="77" y="257" width="17" height="2" fill="#e8e818"/>
<rect x="94" y="257" width="17" height="2" fill="#d9d917"/>
<rect x="111" y="257" width="17" height="2" fill="#dede17"/>
<rect x="128" y="257" width="18" height="2" fill="#6d6d0b"/>
<rect x="43" y="259" width="17" height="2" fill="#c2c214"/>
<rect x="60" y="259" width="17" height="2" fill="#c7c715"/>
<rect x="77" y="259" width="17" height="2" fill="#cfcf16"/>
<rect x="94" y="259" width="17" height="2" fill="#dbdb17"/>
<rect x="111" y="259" width="17" height="2" fill="#e2e218"/>
<rect x="128" y="259" width="18" height="2" fill="#77770c"/>
<rect x="43" y="261" width="17" height="2" fill="#ebeb19"/>
<rect x="60" y="261" width="17" height="2" fill="#ebeb19"/>
<rect x="77" y="261" width="17" height="2" fill="#ebeb19"/>
<rect x="94" y="261" width="17" height="2" fill="#ebeb19"/>
<rect x="111" y="261" width="17" height="2" fill="#ebeb19"/>
<rect x="128" y="261" width="18" height="2" fill="#66660a"/>
<rect x="43" y="263" width="17" height="3" fill="#cece15"/>
<rect x="60" y="263" width="17" height="3" fill="#cbcb15"/>
<rect x="77" y="263" width="17" height="3" fill="#c4c414"/>
<rect x="94" y="263" width="17" height="3" fill="#bbbb13"/>
<rect x="111" y="263" width="17" height="3" fill="#c4c414"/>
<rect x="128" y="263" width="18" height="3" fill="#2b2b04"/>
<rect x="43" y="266" width="17" height="2" fill="#c5c515"/>
<rect x="60" y="266" width="17" height="2" fill="#bdbd14"/>
<rect x="77" y="266" width="17" height="2" fill="#a9a911"/>
<rect x="94" y="266" width="17" height="2" fill="#c7c715"/>
<rect x="111" y="266" width="17" height="2" fill="#c1c114"/>
<rect x="128" y="266" width="18" height="2" fill="#1f1f03"/>
<rect x="43" y="268" width="17" height="1" fill="#e9e918"/>
<rect x="60" y="268" width="17" height="1" fill="#dddd17"/>
<rect x="77" y="268" width="17" height="1" fill="#ebeb19"/>
<rect x="94" y="268" width="17" height="1" fill="#c5c514"/>
<rect x="111" y="268" width="17" height="1" fill="#dada17"/>
<rect x="128" y="268" width="18" height="1" fill="#60600a"/>
<rect x="43" y="269" width="17" height="2" fill="#ebeb19"/>
<rect x="60" y="269" width="17" height="2" fill="#ebeb19"/>
<rect x="77" y="269" width="17" height="2" fill="#ebeb19"/>
<rect x="94" y="269" width="17" height="2" fill="#e3e318"/>
<rect x="111" y="269" width="17" height="2" fill="#e6e618"/>
<rect x="128" y="269" width="18" height="2" fill="#2b2b04"/>
<rect x="43" y="271" width="17" height="2" fill="#d4d416"/>
<rect x="60" y="271" width="17" height="2" fill="#d3d316"/>
<rect x="77" y="271" width="17" height="2" fill="#dede17"/>
<rect x="94" y="271" width="17" height="2" fill="#dddd17"/>
<rect x="111" y="271" width="17" height="2" fill="#dada17"/>
<rect x="128" y="271" width="18" height="2" fill="#3e3e06"/>
<rect x="43" y="273" width="17" height="2" fill="#d1d116"/>
<rect x="60" y="273" width="17" height="2" fill="#e1e117"/>
<rect x="77" y="273" width="17" height="2" fill="#dfdf17"/>
<rect x="94" y="273" width="17" height="2" fill="#d7d716"/>
<rect x="111" y="273" width="17" height="2" fill="#d2d216"/>
<rect x="128" y="273" width="18" height="2" fill="#7b7b0d"/>
<rect x="43" y="275" width="17" height="1" fill="#cfcf16"/>
<rect x="60" y="275" width="17" height="1" fill="#dddd17"/>
<rect x="77" y="275" width="17" height="1" fill="#e3e318"/>
<rect x="94" y="275" width="17" height="1" fill="#d2d216"/>
<rect x="111" y="275" width="17" height="1" fill="#dfdf17"/>
<rect x="128" y="275" width="18" height="1" fill="#2f2f05"/>
<rect x="43" y="276" width="17" height="1" fill="#ebeb19"/>
<rect x="60" y="276" width="17" height="1" fill="#e3e318"/>
<rect x="77" y="276" width="17" height="1" fill="#cece15"/>
<rect x="94" y="276" width="17" height="1" fill="#e8e818"/>
<rect x="111" y="276" width="17" height="1" fill="#d6d616"/>
<rect x="128" y="276" width="18" height="1" fill="#72720c"/>
<rect x="43" y="277" width="17" height="2" fill="#c4c414"/>
<rect x="60" y="277" width="17" height="2" fill="#caca15"/>
<rect x="77" y="277" width="17" height="2" fill="#cfcf16"/>
<rect x="94" y="277" width="17" height="2" fill="#c8c815"/>
<rect x="111" y="277" width="17" height="2" fill="#cfcf16"/>
<rect x="128" y="277" width="18" height="2" fill="#3d3d06"/>
<rect x="43" y="279" width="17" height="1" fill="#bfbf14"/>
<rect x="60" y="279" width="17" height="1" fill="#b7b713"/>
<rect x="77" y="279" width="17" height="1" fill="#baba13"/>
<rect x="94" y="279" width="17" height="1" fill="#979710"/>
<rect x="111" y="279" width="17" height="1" fill="#c5c515"/>
<rect x="128" y="279" width="18" height="1" fill="#4c4c08"/>
<rect x="43" y="280" width="17" height="1" fill="#d3d316"/>
<rect x="60" y="280" width="17" height="1" fill="#e9e918"/>
<rect x="77" y="280" width="17" height="1" fill="#ebeb19"/>
<rect x="94" y="280" width="17" height="1" fill="#ebeb19"/>
<rect x="111" y="280" width="17" height="1" fill="#dbdb17"/>
<rect x="128" y="280" width="18" height="1" fill="#76760c"/>
<rect x="43" y="281" width="17" height="2" fill="#c8c815"/>
<rect x="60" y="281" width="17" height="2" fill="#e6e618"/>
<rect x="77" y="281" width="17" height="2" fill="#c8c815"/>
<rect x="94" y="281" width="17" height="2" fill="#d2d216"/>
<rect x="111" y="281" width="17" height="2" fill="#c6c615"/>
<rect x="128" y="281" width="18" height="2" fill="#282804"/>
<rect x="43" y="283" width="17" height="1" fill="#e3e318"/>
<rect x="60" y="283" width="17" height="1" fill="#e1e118"/>
<rect x="77" y="283" width="17" height="1" fill="#e9e918"/>
<rect x="94" y="283" width="17" height="1" fill="#e1e117"/>
<rect x="111" y="283" width="17" height="1" fill="#d0d016"/>
<rect x="128" y="283" width="18" height="1" fill="#161602"/>
<rect x="43" y="284" width="17" height="2" fill="#b4b413"/>
<rect x="60" y="284" width="17" height="2" fill="#b4b413"/>
<rect x="77" y="284" width="17" height="2" fill="#b2b213"/>
<rect x="94" y="284" width="17" height="2" fill="#c3c314"/>
<rect x="111" y="284" width="17" height="2" fill="#c0c014"/>
<rect x="128" y="284" width="18" height="2" fill="#3b3b06"/>
<rect x="43" y="286" width="17" height="1" fill="#d8d816"/>
<rect x="60" y="286" width="17" height="1" fill="#d4d416"/>
<rect x="77" y="286" width="17" height="1" fill="#d8d817"/>
<rect x="94" y="286" width="17" height="1" fill="#dede17"/>
<rect x="111" y="286" width="17" height="1" fill="#e1e117"/>
<rect x="128" y="286" width="18" height="1" fill="#2d2d04"/>
<rect x="43" y="287" width="17" height="1" fill="#cbcb15"/>
<rect x="60" y="287" width="17" height="1" fill="#ebeb19"/>
<rect x="77" y="287" width="17" height="1" fill="#dede17"/>
<rect x="94" y="287" width="17" height="1" fill="#e9e918"/>
<rect x="111" y="287" width="17" height="1" fill="#c9c915"/>
<rect x="128" y="287" width="18" height="1" fill="#353505"/>
<rect x="43" y="288" width="17" height="3" fill="#c4c414"/>
<rect x="60" y="288" width="17" height="3" fill="#b3b313"/>
<rect x="77" y="288" width="17" height="3" fill="#bebe14"/>
<rect x="94" y="288" width="17" height="3" fill="#cdcd15"/>
<rect x="111" y="288" width="17" height="3" fill="#d1d116"/>
<rect x="128" y="288" width="18" height="3" fill="#68680b"/>
<rect x="43" y="291" width="17" height="1" fill="#adad12"/>
<rect x="60" y="291" width="17" height="1" fill="#a6a611"/>
<rect x="77" y="291" width="17" height="1" fill="#bdbd14"/>
<rect x="94" y="291" width="17" height="1" fill="#c2c214"/>
<rect x="111" y="291" width="17" height="1" fill="#b9b913"/>
<rect x="128" y="291" width="18" height="1" fill="#131302"/>
<rect x="43" y="292" width="17" height="1" fill="#cece15"/>
<rect x="60" y="292" width="17" height="1" fill="#cece15"/>
<rect x="77" y="292" width="17" height="1" fill="#cbcb15"/>
<rect x="94" y="292" width="17" height="1" fill="#bfbf14"/>
<rect x="111" y="292" width="17" height="1" fill="#c8c815"/>
<rect x="128" y="292" width="18" height="1" fill="#4c4c08"/>
<rect x="43" y="293" width="17" height="2" fill="#bcbc14"/>
<rect x="60" y="293" width="17" height="2" fill="#adad12"/>
<rect x="77" y="293" width="17" height="2" fill="#c7c715"/>
<rect x="94" y="293" width="17" height="2" fill="#c8c815"/>
<rect x="111" y="293" width="17" height="2" fill="#c3c314"/>
<rect x="128" y="293" width="18" height="2" fill="#4d4d08"/>
<rect x="43" y="295" width="17" height="1" fill="#ebeb19"/>
<rect x="60" y="295" width="17" height="1" fill="#ebeb19"/>
<rect x="77" y="295" width="17" height="1" fill="#ebeb19"/>
<rect x="94" y="295" width="17" height="1" fill="#ebeb19"/>
<rect x="111" y="295" width="17" height="1" fill="#ebeb19"/>
<rect x="128" y="295" width="18" height="1" fill="#2a2a04"/>
<rect x="43" y="296" width="17" height="2" fill="#b0b012"/>
<rect x="60" y="296" width="17" height="2" fill="#aaaa12"/>
<rect x="77" y="296" width="17" height="2" fill="#a1a111"/>
<rect x="94" y="296" width="17" height="2" fill="#9f9f10"/>
<rect x="111" y="296" width="17" height="2" fill="#adad12"/>
<rect x="128" y="296" width="18" height="2" fill="#2a2a04"/>
<rect x="43" y="298" width="17" height="2" fill="#caca15"/>
<rect x="60" y="298" width="17" height="2" fill="#bebe14"/>
<rect x="77" y="298" width="17" height="2" fill="#d0d016"/>
<rect x="94" y="298" width="17" height="2" fill="#dbdb17"/>
<rect x="111" y="298" width="17" height="2" fill="#d1d116"/>
<rect x="128" y="298" width="18" height="2" fill="#373705"/>
<rect x="43" y="300" width="17" height="3" fill="#ebeb19"/>
<rect x="60" y="300" width="17" height="3" fill="#c3c314"/>
<rect x="77" y="300" width="17" height="3" fill="#a6a611"/>
<rect x="94" y="300" width="17" height="3" fill="#a7a711"/>
<rect x="111" y="300" width="17" height="3" fill="#dede17"/>
<rect x="128" y="300" width="18" height="3" fill="#000000"/>
<rect x="43" y="303" width="17" height="2" fill="#bebe14"/>
<rect x="60" y="303" width="17" height="2" fill="#484807"/>
<rect x="77" y="303" width="17" height="2" fill="#565609"/>
<rect x="94" y="303" width="17" height="2" fill="#68680b"/>
<rect x="111" y="303" width="17" height="2" fill="#575709"/>
<rect x="128" y="303" width="18" height="2" fill="#00000a"/>
<rect x="43" y="305" width="17" height="1" fill="#b7b713"/>
<rect x="60" y="305" width="17" height="1" fill="#72720c"/>
<rect x="77" y="305" width="17" height="1" fill="#9c9c10"/>
<rect x="94" y="305" width="17" height="1" fill="#a0a011"/>
<rect x="111" y="305" width="17" height="1" fill="#71710c"/>
<rect x="128" y="305" width="18" height="1" fill="#0f0f01"/>
<rect x="43" y="306" width="17" height="1" fill="#e4e418"/>
<rect x="60" y="306" width="17" height="1" fill="#bdbd14"/>
<rect x="77" y="306" width="17" height="1" fill="#a9a912"/>
<rect x="94" y="306" width="17" height="1" fill="#b8b813"/>
<rect x="111" y="306" width="17" height="1" fill="#d8d817"/>
<rect x="128" y="306" width="18" height="1" fill="#010100"/>
<rect x="43" y="307" width="17" height="2" fill="#abab12"/>
<rect x="60" y="307" width="17" height="2" fill="#a3a311"/>
<rect x="77" y="307" width="17" height="2" fill="#b5b513"/>
<rect x="94" y="307" width="17" height="2" fill="#94940f"/>
<rect x="111" y="307" width="17" height="2" fill="#aaaa12"/>
<rect x="128" y="307" width="18" height="2" fill="#000013"/>
<rect x="43" y="309" width="17" height="2" fill="#cccc15"/>
<rect x="60" y="309" width="17" height="2" fill="#bdbd14"/>
<rect x="77" y="309" width="17" height="2" fill="#80800d"/>
<rect x="94" y="309" width="17" height="2" fill="#caca15"/>
<rect x="111" y="309" width="17" height="2" fill="#acac12"/>
<rect x="128" y="309" width="18" height="2" fill="#333305"/>
<rect x="43" y="311" width="17" height="2" fill="#ebeb19"/>
<rect x="60" y="311" width="17" height="2" fill="#979710"/>
<rect x="77" y="311" width="17" height="2" fill="#a5a511"/>
<rect x="94" y="311" width="17" height="2" fill="#a2a211"/>
<rect x="111" y="311" width="17" height="2" fill="#92920f"/>
<rect x="128" y="311" width="18" height="2" fill="#030300"/>
<rect x="43" y="313" width="17" height="1" fill="#b7b713"/>
<rect x="60" y="313" width="17" height="1" fill="#9b9b10"/>
<rect x="77" y="313" width="17" height="1" fill="#73730c"/>
<rect x="94" y="313" width="17" height="1" fill="#7d7d0d"/>
<rect x="111" y="313" width="17" height="1" fill="#8e8e0f"/>
<rect x="128" y="313" width="18" height="1" fill="#313105"/>
<rect x="43" y="314" width="17" height="1" fill="#8c8c0e"/>
<rect x="60" y="314" width="17" height="1" fill="#5c5c09"/>
<rect x="77" y="314" width="17" height="1" fill="#9b9b10"/>
<rect x="94" y="314" width="17" height="1" fill="#72720c"/>
<rect x="111" y="314" width="17" height="1" fill="#505008"/>
<rect x="128" y="314" width="18" height="1" fill="#00000c"/>
<rect x="43" y="315" width="17" height="3" fill="#b6b613"/>
<rect x="60" y="315" width="17" height="3" fill="#8c8c0e"/>
<rect x="77" y="315" width="17" height="3" fill="#85850e"/>
<rect x="94" y="315" width="17" height="3" fill="#74740c"/>
<rect x="111" y="315" width="17" height="3" fill="#81810d"/>
<rect x="128" y="315" width="18" height="3" fill="#0f0f01"/>
<rect x="43" y="318" width="17" height="2" fill="#ebeb19"/>
<rect x="60" y="318" width="17" height="2" fill="#bbbb13"/>
<rect x="77" y="318" width="17" height="2" fill="#bfbf14"/>
<rect x="94" y="318" width="17" height="2" fill="#abab12"/>
<rect x="111" y="318" width="17" height="2" fill="#999910"/>
<rect x="128" y="318" width="18" height="2" fill="#343405"/>
<rect x="43" y="320" width="17" height="3" fill="#b2b212"/>
<rect x="60" y="320" width="17" height="3" fill="#86860e"/>
<rect x="77" y="320" width="17" height="3" fill="#6e6e0b"/>
<rect x="94" y="320" width="17" height="3" fill="#72720c"/>
<rect x="111" y="320" width="17" height="3" fill="#8f8f0f"/>
<rect x="128" y="320" width="18" height="3" fill="#000002"/>
<rect x="43" y="323" width="17" height="2" fill="#cccc15"/>
<rect x="60" y="323" width="17" height="2" fill="#b0b012"/>
<rect x="77" y="323" width="17" height="2" fill="#c7c715"/>
<rect x="94" y="323" width="17" height="2" fill="#a9a912"/>
<rect x="111" y="323" width="17" height="2" fill="#a2a211"/>
<rect x="128" y="323" width="18" height="2" fill="#0a0a01"/>
<rect x="43" y="325" width="17" height="1" fill="#61610a"/>
<rect x="60" y="325" width="17" height="1" fill="#0c0c01"/>
<rect x="77" y="325" width="17" height="1" fill="#202003"/>
<rect x="94" y="325" width="17" height="1" fill="#202003"/>
<rect x="111" y="325" width="17" height="1" fill="#1f1f03"/>
<rect x="128" y="325" width="18" height="1" fill="#010124"/>
<rect x="43" y="326" width="17" height="2" fill="#999910"/>
<rect x="60" y="326" width="17" height="2" fill="#5b5b09"/>
<rect x="77" y="326" width="17" height="2" fill="#73730c"/>
<rect x="94" y="326" width="17" height="2" fill="#64640a"/>
<rect x="111" y="326" width="17" height="2" fill="#64640a"/>
<rect x="128" y="326" width="18" height="2" fill="#020246"/>
<rect x="43" y="328" width="17" height="2" fill="#a2a211"/>
<rect x="60" y="328" width="17" height="2" fill="#abab12"/>
<rect x="77" y="328" width="17" height="2" fill="#76760c"/>
<rect x="94" y="328" width="17" height="2" fill="#7e7e0d"/>
<rect x="111" y="328" width="17" height="2" fill="#6c6c0b"/>
<rect x="128" y="328" width="18" height="2" fill="#000016"/>
<rect x="43" y="330" width="17" height="1" fill="#e2e218"/>
<rect x="60" y="330" width="17" height="1" fill="#88880e"/>
<rect x="77" y="330" width="17" height="1" fill="#bbbb13"/>
<rect x="94" y="330" width="17" height="1" fill="#74740c"/>
<rect x="111" y="330" width="17" height="1" fill="#c5c515"/>
<rect x="128" y="330" width="18" height="1" fill="#03035c"/>
<rect x="43" y="331" width="17" height="2" fill="#84840e"/>
<rect x="60" y="331" width="17" height="2" fill="#414106"/>
<rect x="77" y="331" width="17" height="2" fill="#242403"/>
<rect x="94" y="331" width="17" height="2" fill="#4e4e08"/>
<rect x="111" y="331" width="17" height="2" fill="#323205"/>
<rect x="128" y="331" width="18" height="2" fill="#03035b"/>
<rect x="43" y="333" width="17" height="2" fill="#b6b613"/>
<rect x="60" y="333" width="17" height="2" fill="#65650a"/>
<rect x="77" y="333" width="17" height="2" fill="#5d5d09"/>
<rect x="94" y="333" width="17" height="2" fill="#5b5b09"/>
<rect x="111" y="333" width="17" height="2" fill="#5d5d09"/>
<rect x="128" y="333" width="18" height="2" fill="#0707c6"/>
<rect x="43" y="335" width="17" height="1" fill="#94940f"/>
<rect x="60" y="335" width="17" height="1" fill="#575709"/>
<rect x="77" y="335" width="17" height="1" fill="#71710c"/>
<rect x="94" y="335" width="17" height="1" fill="#69690b"/>
<rect x="111" y="335" width="17" height="1" fill="#7e7e0d"/>
<rect x="128" y="335" width="18" height="1" fill="#05058a"/>
<rect x="43" y="336" width="17" height="1" fill="#90900f"/>
<rect x="60" y="336" width="17" height="1" fill="#6b6b0b"/>
<rect x="77" y="336" width="17" height="1" fill="#65650a"/>
<rect x="94" y="336" width="17" height="1" fill="#5e5e0a"/>
<rect x="111" y="336" width="17" height="1" fill="#353505"/>
<rect x="128" y="336" width="18" height="1" fill="#05058e"/>
<rect x="43" y="337" width="17" height="1" fill="#8c8c0e"/>
<rect x="60" y="337" width="17" height="1" fill="#5d5d09"/>
<rect x="77" y="337" width="17" height="1" fill="#5c5c09"/>
<rect x="94" y="337" width="17" height="1" fill="#5e5e0a"/>
<rect x="111" y="337" width="17" height="1" fill="#66660a"/>
<rect x="128" y="337" width="18" height="1" fill="#06069c"/>
<rect x="43" y="338" width="17" height="1" fill="#a7a711"/>
<rect x="60" y="338" width="17" height="1" fill="#434307"/>
<rect x="77" y="338" width="17" height="1" fill="#535308"/>
<rect x="94" y="338" width="17" height="1" fill="#545408"/>
<rect x="111" y="338" width="17" height="1" fill="#5a5a09"/>
<rect x="128" y="338" width="18" height="1" fill="#06069d"/>
<rect x="43" y="339" width="17" height="1" fill="#afaf12"/>
<rect x="60" y="339" width="17" height="1" fill="#63630a"/>
<rect x="77" y="339" width="17" height="1" fill="#75750c"/>
<rect x="94" y="339" width="17" height="1" fill="#82820d"/>
<rect x="111" y="339" width="17" height="1" fill="#7e7e0d"/>
<rect x="128" y="339" width="18" height="1" fill="#0606a6"/>
<rect x="43" y="340" width="17" height="1" fill="#84840e"/>
<rect x="60" y="340" width="17" height="1" fill="#575709"/>
<rect x="77" y="340" width="17" height="1" fill="#1b1b02"/>
<rect x="94" y="340" width="17" height="1" fill="#555509"/>
<rect x="111" y="340" width="17" height="1" fill="#4a4a07"/>
<rect x="128" y="340" width="18" height="1" fill="#0606a2"/>
<rect x="43" y="341" width="17" height="2" fill="#66660a"/>
<rect x="60" y="341" width="17" height="2" fill="#515108"/>
<rect x="77" y="341" width="17" height="2" fill="#565609"/>
<rect x="94" y="341" width="17" height="2" fill="#68680b"/>
<rect x="111" y="341" width="17" height="2" fill="#414107"/>
<rect x="128" y="341" width="18" height="2" fill="#0606a0"/>
<rect x="43" y="343" width="17" height="1" fill="#a8a811"/>
<rect x="60" y="343" width="17" height="1" fill="#73730c"/>
<rect x="77" y="343" width="17" height="1" fill="#9d9d10"/>
<rect x="94" y="343" width="17" height="1" fill="#565609"/>
<rect x="111" y="343" width="17" height="1" fill="#77770c"/>
<rect x="128" y="343" width="18" height="1" fill="#0606ad"/>
<rect x="43" y="344" width="17" height="1" fill="#65650a"/>
<rect x="60" y="344" width="17" height="1" fill="#69690b"/>
<rect x="77" y="344" width="17" height="1" fill="#82820d"/>
<rect x="94" y="344" width="17" height="1" fill="#7d7d0d"/>
<rect x="111" y="344" width="17" height="1" fill="#69690b"/>
<rect x="128" y="344" width="18" height="1" fill="#0606a9"/>
<rect x="43" y="345" width="17" height="2" fill="#aaaa12"/>
<rect x="60" y="345" width="17" height="2" fill="#89890e"/>
<rect x="77" y="345" width="17" height="2" fill="#595909"/>
<rect x="94" y="345" width="17" height="2" fill="#65650a"/>
<rect x="111" y="345" width="17" height="2" fill="#575709"/>
<rect x="128" y="345" width="18" height="2" fill="#0606a1"/>
<rect x="43" y="347" width="17" height="3" fill="#60600a"/>
<rect x="60" y="347" width="17" height="3" fill="#282804"/>
<rect x="77" y="347" width="17" height="3" fill="#070700"/>
<rect x="94" y="347" width="17" height="3" fill="#555509"/>
<rect x="111" y="347" width="17" height="3" fill="#131302"/>
<rect x="128" y="347" width="18" height="3" fill="#0707b1"/>
<rect x="43" y="350" width="17" height="2" fill="#ebeb19"/>
<rect x="60" y="350" width="17" height="2" fill="#61610a"/>
<rect x="77" y="350" width="17" height="2" fill="#979710"/>
<rect x="94" y="350" width="17" height="2" fill="#9a9a10"/>
<rect x="111" y="350" width="17" height="2" fill="#77770c"/>
<rect x="128" y="350" width="18" height="2" fill="#0707c2"/>
<rect x="43" y="352" width="17" height="1" fill="#030300"/>
<rect x="60" y="352" width="17" height="1" fill="#03035b"/>
<rect x="77" y="352" width="17" height="1" fill="#020241"/>
<rect x="94" y="352" width="17" height="1" fill="#030363"/>
<rect x="111" y="352" width="17" height="1" fill="#03035e"/>
<rect x="128" y="352" width="18" height="1" fill="#0a0afa"/>
<rect x="43" y="353" width="17" height="1" fill="#010120"/>
<rect x="60" y="353" width="17" height="1" fill="#030354"/>
<rect x="77" y="353" width="17" height="1" fill="#03035e"/>
<rect x="94" y="353" width="17" height="1" fill="#04046c"/>
<rect x="111" y="353" width="17" height="1" fill="#030356"/>
<rect x="128" y="353" width="18" height="1" fill="#0a0afa"/>
<rect x="43" y="354" width="17" height="1" fill="#02023e"/>
<rect x="60" y="354" width="17" height="1" fill="#030358"/>
<rect x="77" y="354" width="17" height="1" fill="#040468"/>
<rect x="94" y="354" width="17" height="1" fill="#040465"/>
<rect x="111" y="354" width="17" height="1" fill="#050586"/>
<rect x="128" y="354" width="18" height="1" fill="#0a0afa"/>
<rect x="43" y="355" width="17" height="1" fill="#000017"/>
<rect x="60" y="355" width="17" height="1" fill="#03034e"/>
<rect x="77" y="355" width="17" height="1" fill="#04046e"/>
<rect x="94" y="355" width="17" height="1" fill="#040467"/>
<rect x="111" y="355" width="17" height="1" fill="#040475"/>
<rect x="128" y="355" width="18" height="1" fill="#0a0afa"/>
<rect x="43" y="356" width="17" height="1" fill="#010122"/>
<rect x="60" y="356" width="17" height="1" fill="#050586"/>
<rect x="77" y="356" width="17" height="1" fill="#040479"/>
<rect x="94" y="356" width="17" height="1" fill="#04046b"/>
<rect x="111" y="356" width="17" height="1" fill="#03035d"/>
<rect x="128" y="356" width="18" height="1" fill="#0a0afa"/>
<rect x="43" y="357" width="17" height="2" fill="#030357"/>
<rect x="60" y="357" width="17" height="2" fill="#0606ae"/>
<rect x="77" y="357" width="17" height="2" fill="#0606ab"/>
<rect x="94" y="357" width="17" height="2" fill="#0606a8"/>
<rect x="111" y="357" width="17" height="2" fill="#06069d"/>
<rect x="128" y="357" width="18" height="2" fill="#0a0afa"/>
<rect x="43" y="359" width="17" height="2" fill="#030300"/>
<rect x="60" y="359" width="17" height="2" fill="#03035b"/>
<rect x="77" y="359" width="17" height="2" fill="#04046c"/>
<rect x="94" y="359" width="17" height="2" fill="#03034b"/>
<rect x="111" y="359" width="17" height="2" fill="#030353"/>
<rect x="128" y="359" width="18" height="2" fill="#0a0afa"/>
<rect x="43" y="361" width="17" height="1" fill="#000018"/>
<rect x="60" y="361" width="17" height="1" fill="#040476"/>
<rect x="77" y="361" width="17" height="1" fill="#04046b"/>
<rect x="94" y="361" width="17" height="1" fill="#030353"/>
<rect x="111" y="361" width="17" height="1" fill="#040468"/>
<rect x="128" y="361" width="18" height="1" fill="#0a0afa"/>
<rect x="43" y="362" width="17" height="2" fill="#010119"/>
<rect x="60" y="362" width="17" height="2" fill="#040469"/>
<rect x="77" y="362" width="17" height="2" fill="#040465"/>
<rect x="94" y="362" width="17" height="2" fill="#040464"/>
<rect x="111" y="362" width="17" height="2" fill="#03035b"/>
<rect x="128" y="362" width="18" height="2" fill="#0a0afa"/>
<rect x="43" y="364" width="17" height="2" fill="#01011e"/>
<rect x="60" y="364" width="17" height="2" fill="#05058a"/>
<rect x="77" y="364" width="17" height="2" fill="#040475"/>
<rect x="94" y="364" width="17" height="2" fill="#04047b"/>
<rect x="111" y="364" width="17" height="2" fill="#04047a"/>
<rect x="128" y="364" width="18" height="2" fill="#0a0afa"/>
<rect x="43" y="366" width="17" height="1" fill="#000009"/>
<rect x="60" y="366" width="17" height="1" fill="#03034f"/>
<rect x="77" y="366" width="17" height="1" fill="#030352"/>
<rect x="94" y="366" width="17" height="1" fill="#03035b"/>
<rect x="111" y="366" width="17" height="1" fill="#040464"/>
<rect x="128" y="366" width="18" height="1" fill="#0a0afa"/>
<rect x="43" y="367" width="17" height="1" fill="#01011d"/>
<rect x="60" y="367" width="17" height="1" fill="#04046e"/>
<rect x="77" y="367" width="17" height="1" fill="#04046c"/>
<rect x="94" y="367" width="17" height="1" fill="#020246"/>
<rect x="111" y="367" width="17" height="1" fill="#040464"/>
<rect x="128" y="367" width="18" height="1" fill="#0a0afa"/>
<rect x="43" y="368" width="17" height="2" fill="#000013"/>
<rect x="60" y="368" width="17" height="2" fill="#040468"/>
<rect x="77" y="368" width="17" height="2" fill="#030363"/>
<rect x="94" y="368" width="17" height="2" fill="#03035c"/>
<rect x="111" y="368" width="17" height="2" fill="#04046c"/>
<rect x="128" y="368" width="18" height="2" fill="#0a0afa"/>
<rect x="43" y="370" width="17" height="3" fill="#010129"/>
<rect x="60" y="370" width="17" height="3" fill="#04046e"/>
<rect x="77" y="370" width="17" height="3" fill="#060699"/>
<rect x="94" y="370" width="17" height="3" fill="#04047c"/>
<rect x="111" y="370" width="17" height="3" fill="#040478"/>
<rect x="128" y="370" width="18" height="3" fill="#0a0afa"/>
<rect x="43" y="373" width="17" height="2" fill="#0e0e01"/>
<rect x="60" y="373" width="17" height="2" fill="#030351"/>
<rect x="77" y="373" width="17" height="2" fill="#030352"/>
<rect x="94" y="373" width="17" height="2" fill="#04046c"/>
<rect x="111" y="373" width="17" height="2" fill="#03035d"/>
<rect x="128" y="373" width="18" height="2" fill="#0a0afa"/>
<rect x="43" y="375" width="17" height="2" fill="#0e0e01"/>
<rect x="60" y="375" width="17" height="2" fill="#030352"/>
<rect x="77" y="375" width="17" height="2" fill="#030358"/>
<rect x="94" y="375" width="17" height="2" fill="#030360"/>
<rect x="111" y="375" width="17" height="2" fill="#03035d"/>
<rect x="128" y="375" width="18" height="2" fill="#0a0afa"/>
<rect x="43" y="377" width="17" height="2" fill="#070700"/>
<rect x="60" y="377" width="17" height="2" fill="#04046e"/>
<rect x="77" y="377" width="17" height="2" fill="#03035d"/>
<rect x="94" y="377" width="17" height="2" fill="#050581"/>
<rect x="111" y="377" width="17" height="2" fill="#050586"/>
<rect x="128" y="377" width="18" height="2" fill="#0a0afa"/>
<rect x="43" y="379" width="17" height="2" fill="#565609"/>
<rect x="60" y="379" width="17" height="2" fill="#88880e"/>
<rect x="77" y="379" width="17" height="2" fill="#5e5e0a"/>
<rect x="94" y="379" width="17" height="2" fill="#5d5d09"/>
<rect x="111" y="379" width="17" height="2" fill="#77770c"/>
<rect x="128" y="379" width="18" height="2" fill="#0a0afa"/>
<rect x="43" y="381" width="17" height="1" fill="#5a5a09"/>
<rect x="60" y="381" width="17" height="1" fill="#484807"/>
<rect x="77" y="381" width="17" height="1" fill="#3d3d06"/>
<rect x="94" y="381" width="17" height="1" fill="#60600a"/>
<rect x="111" y="381" width="17" height="1" fill="#3c3c06"/>
<rect x="128" y="381" width="18" height="1" fill="#0a0afa"/>
<rect x="152" y="38.5" width="5" height="173.5" fill="#f7ba00"/>
<rect x="152" y="217" width="5" height="165.5" fill="#2f77c2"/>
<text stroke="#000" stroke-width="0.3" transform="translate(172.3,124.8) rotate(-90)" font-family="Liberation Serif" font-weight="bold" font-size="13.3" text-anchor="middle">K108E increased</text>
<text stroke="#000" stroke-width="0.3" transform="translate(172.3,301.7) rotate(-90)" font-family="Liberation Serif" font-weight="bold" font-size="13.8" text-anchor="middle">K108E decreased</text>
<text stroke="#000" stroke-width="0.3" x="179" y="14" font-family="Liberation Serif" font-weight="bold" font-size="9.8">IRF8 peaks</text>
<text stroke="#000" stroke-width="0.3" transform="translate(197.8,32.8) rotate(90) scale(0.8,1)" font-family="Liberation Serif" font-size="7.5" text-anchor="end">0</text>
<text stroke="#000" stroke-width="0.3" transform="translate(208.0,32.8) rotate(90) scale(0.8,1)" font-family="Liberation Serif" font-size="7.5" text-anchor="end">750</text>
<text stroke="#000" stroke-width="0.3" transform="translate(217.8,32.8) rotate(90) scale(0.8,1)" font-family="Liberation Serif" font-size="7.5" text-anchor="end">1500</text>
<path d="M200.3 37 V38.8 H220.6 V37 M210.4 38.8 V37.3" stroke="#222" stroke-width="0.8" fill="none"/>
<rect x="182" y="44.0" width="13.6" height="2" fill="#aeaed8"/>
<rect x="182" y="48.7" width="13.6" height="1.2" fill="#e2e2ef"/>
<rect x="182" y="59.1" width="13.6" height="1" fill="#e2e2ef"/>
<rect x="182" y="74.5" width="13.6" height="1.5" fill="#cacae4"/>
<rect x="182" y="82.7" width="13.6" height="2" fill="#e2e2ef"/>
<rect x="182" y="85.7" width="13.6" height="1.2" fill="#aeaed8"/>
<rect x="182" y="90.9" width="13.6" height="2" fill="#cacae4"/>
<rect x="182" y="95.4" width="13.6" height="1.5" fill="#e2e2ef"/>
<rect x="182" y="98.9" width="13.6" height="1.2" fill="#e2e2ef"/>
<rect x="182" y="102.6" width="13.6" height="1.2" fill="#e2e2ef"/>
<rect x="182" y="105.8" width="13.6" height="1.2" fill="#e2e2ef"/>
<rect x="182" y="115.5" width="13.6" height="1.2" fill="#9494cc"/>
<rect x="182" y="118.2" width="13.6" height="1" fill="#e2e2ef"/>
<rect x="182" y="120.2" width="13.6" height="1.5" fill="#cacae4"/>
<rect x="182" y="124.2" width="13.6" height="1.5" fill="#e2e2ef"/>
<rect x="182" y="126.2" width="13.6" height="1.2" fill="#e2e2ef"/>
<rect x="182" y="128.9" width="13.6" height="2" fill="#cacae4"/>
<rect x="182" y="135.1" width="13.6" height="1.2" fill="#e2e2ef"/>
<rect x="182" y="144.7" width="13.6" height="1" fill="#e2e2ef"/>
<rect x="182" y="148.9" width="13.6" height="1.5" fill="#aeaed8"/>
<rect x="182" y="154.9" width="13.6" height="1" fill="#cacae4"/>
<rect x="182" y="157.9" width="13.6" height="1" fill="#aeaed8"/>
<rect x="182" y="159.4" width="13.6" height="1" fill="#e2e2ef"/>
<rect x="182" y="160.9" width="13.6" height="1" fill="#e2e2ef"/>
<rect x="182" y="163.4" width="13.6" height="1.2" fill="#e2e2ef"/>
<rect x="182" y="175.8" width="13.6" height="1" fill="#cacae4"/>
<rect x="182" y="188.2" width="13.6" height="1.5" fill="#cacae4"/>
<rect x="182" y="195.2" width="13.6" height="2" fill="#e2e2ef"/>
<rect x="182" y="197.2" width="13.6" height="1" fill="#e2e2ef"/>
<rect x="182" y="202.2" width="13.6" height="2" fill="#aeaed8"/>
<rect x="182" y="204.2" width="13.6" height="1" fill="#e2e2ef"/>
<rect x="182" y="210.4" width="13.6" height="2" fill="#e2e2ef"/>
<rect x="182" y="217.0" width="13.6" height="1.5" fill="#bcbcec"/>
<rect x="182" y="219.0" width="13.6" height="1.5" fill="#dcdcf4"/>
<rect x="182" y="229.2" width="13.6" height="1.2" fill="#dcdcf4"/>
<rect x="182" y="230.9" width="13.6" height="1.2" fill="#a0a0e2"/>
<rect x="182" y="234.6" width="13.6" height="1" fill="#8282d6"/>
<rect x="182" y="236.6" width="13.6" height="1.2" fill="#bcbcec"/>
<rect x="182" y="238.3" width="13.6" height="2" fill="#bcbcec"/>
<rect x="182" y="242.3" width="13.6" height="1.5" fill="#a0a0e2"/>
<rect x="182" y="245.3" width="13.6" height="2" fill="#a0a0e2"/>
<rect x="182" y="248.3" width="13.6" height="1" fill="#dcdcf4"/>
<rect x="182" y="250.3" width="13.6" height="1.5" fill="#bcbcec"/>
<rect x="182" y="253.8" width="13.6" height="1.2" fill="#dcdcf4"/>
<rect x="182" y="257.5" width="13.6" height="1.5" fill="#dcdcf4"/>
<rect x="182" y="259.0" width="13.6" height="1" fill="#bcbcec"/>
<rect x="182" y="265.5" width="13.6" height="1.2" fill="#bcbcec"/>
<rect x="182" y="269.7" width="13.6" height="1" fill="#dcdcf4"/>
<rect x="182" y="271.7" width="13.6" height="1.2" fill="#a0a0e2"/>
<rect x="182" y="273.4" width="13.6" height="1" fill="#a0a0e2"/>
<rect x="182" y="275.4" width="13.6" height="1.2" fill="#dcdcf4"/>
<rect x="182" y="276.6" width="13.6" height="2" fill="#bcbcec"/>
<rect x="182" y="280.1" width="13.6" height="1.5" fill="#bcbcec"/>
<rect x="182" y="285.6" width="13.6" height="1" fill="#a0a0e2"/>
<rect x="182" y="286.6" width="13.6" height="1.5" fill="#a0a0e2"/>
<rect x="182" y="293.1" width="13.6" height="1" fill="#dcdcf4"/>
<rect x="182" y="295.1" width="13.6" height="1.5" fill="#a0a0e2"/>
<rect x="182" y="297.6" width="13.6" height="1" fill="#a0a0e2"/>
<rect x="182" y="299.6" width="13.6" height="1" fill="#dcdcf4"/>
<rect x="182" y="303.1" width="13.6" height="1.2" fill="#8282d6"/>
<rect x="182" y="314.3" width="13.6" height="1.2" fill="#a0a0e2"/>
<rect x="182" y="317.0" width="13.6" height="1.5" fill="#bcbcec"/>
<rect x="182" y="321.0" width="13.6" height="1.2" fill="#dcdcf4"/>
<rect x="182" y="323.7" width="13.6" height="1.5" fill="#dcdcf4"/>
<rect x="182" y="326.7" width="13.6" height="1" fill="#bcbcec"/>
<rect x="182" y="327.7" width="13.6" height="1" fill="#bcbcec"/>
<rect x="182" y="331.2" width="13.6" height="1" fill="#bcbcec"/>
<rect x="182" y="332.2" width="13.6" height="2" fill="#8282d6"/>
<rect x="182" y="335.2" width="13.6" height="1.5" fill="#bcbcec"/>
<rect x="182" y="340.7" width="13.6" height="1.5" fill="#bcbcec"/>
<rect x="182" y="342.2" width="13.6" height="1.5" fill="#a0a0e2"/>
<rect x="182" y="343.7" width="13.6" height="1" fill="#dcdcf4"/>
<rect x="182" y="346.7" width="13.6" height="1.5" fill="#bcbcec"/>
<rect x="182" y="349.7" width="13.6" height="2" fill="#a0a0e2"/>
<rect x="182" y="351.7" width="13.6" height="1.5" fill="#a0a0e2"/>
<rect x="182" y="354.2" width="13.6" height="1" fill="#bcbcec"/>
<rect x="182" y="356.7" width="13.6" height="1.2" fill="#a0a0e2"/>
<rect x="182" y="359.4" width="13.6" height="1.2" fill="#a0a0e2"/>
<rect x="182" y="362.1" width="13.6" height="1.2" fill="#a0a0e2"/>
<rect x="182" y="372.0" width="13.6" height="1" fill="#dcdcf4"/>
<rect x="182" y="375.0" width="13.6" height="1" fill="#dcdcf4"/>
<rect x="182" y="378.5" width="13.6" height="2" fill="#a0a0e2"/>
<rect x="182" y="381.0" width="13.6" height="2" fill="#a0a0e2"/>
<defs><linearGradient id="wg" gradientUnits="userSpaceOnUse" x1="200" y1="0" x2="219" y2="0"><stop offset="0" stop-color="#dfe8f1"/><stop offset="0.5" stop-color="#9fbad6"/><stop offset="1" stop-color="#3f6d9c"/></linearGradient><linearGradient id="cb" x1="0" y1="0" x2="1" y2="0"><stop offset="0" stop-color="#1414ff"/><stop offset="0.5" stop-color="#000000"/><stop offset="1" stop-color="#f0f040"/></linearGradient><linearGradient id="ib" x1="0" y1="0" x2="1" y2="0"><stop offset="0" stop-color="#ffffff"/><stop offset="1" stop-color="#2424d8"/></linearGradient><linearGradient id="rk" x1="0" y1="0" x2="1" y2="0"><stop offset="0" stop-color="#c0182a"/><stop offset="0.08" stop-color="#d42838"/><stop offset="0.2" stop-color="#dc3a4c"/><stop offset="0.235" stop-color="#eaa6bc"/><stop offset="0.46" stop-color="#f0c6da"/><stop offset="0.5" stop-color="#e6e2f4"/><stop offset="0.64" stop-color="#d4d4f2"/><stop offset="0.69" stop-color="#8484e0"/><stop offset="0.86" stop-color="#5454d2"/><stop offset="0.9" stop-color="#2222aa"/><stop offset="1" stop-color="#141496"/></linearGradient></defs>
<line x1="200.3" y1="38.5" x2="200.3" y2="383" stroke="#c8d4e2" stroke-width="0.6"/>
<path d="M200 39 L200.8 60 L201.8 100 L202.7 140 L204.5 160 L205.6 180 L206.6 195 L207.6 207 L208.2 214.5 L200 214.5 Z" fill="url(#wg)"/>
<path d="M200 216 L200.4 220 L203.2 250 L207.3 280 L210 300 L212.9 330 L215.6 360 L217.6 380 L218.5 382.5 L200 382.5 Z" fill="url(#wg)"/>
<rect x="53.5" y="389.3" width="82.5" height="7" fill="url(#cb)"/>
<text stroke="#000" stroke-width="0.3" x="57.3" y="403.3" font-family="Liberation Serif" font-weight="bold" font-size="7.1" text-anchor="middle">-3</text>
<text stroke="#000" stroke-width="0.3" x="94.7" y="403.3" font-family="Liberation Serif" font-weight="bold" font-size="7.1" text-anchor="middle">2</text>
<text stroke="#000" stroke-width="0.3" x="132.3" y="403.3" font-family="Liberation Serif" font-weight="bold" font-size="7.1" text-anchor="middle">7</text>
<text stroke="#000" stroke-width="0.3" x="95.4" y="412.6" font-family="Liberation Serif" font-weight="bold" font-size="7.3" text-anchor="middle">Expr. Level</text>
<text stroke="#000" stroke-width="0.3" x="95.4" y="421.3" font-family="Liberation Serif" font-weight="bold" font-size="7.3" text-anchor="middle">(Log2 CPM)</text>
<rect x="186" y="390.3" width="16" height="6.2" fill="url(#ib)"/>
<text stroke="#000" stroke-width="0.3" x="178.3" y="403.8" font-family="Liberation Sans" font-weight="bold" font-size="6.8" text-anchor="middle">0</text>
<text stroke="#000" stroke-width="0.3" x="188.5" y="403.8" font-family="Liberation Sans" font-weight="bold" font-size="6.8" text-anchor="middle">1</text>
<text stroke="#000" stroke-width="0.3" x="198.4" y="403.8" font-family="Liberation Sans" font-weight="bold" font-size="6.8" text-anchor="middle">10</text>
<text stroke="#000" stroke-width="0.3" x="192" y="415.3" font-family="Liberation Serif" font-weight="bold" font-size="7.3" text-anchor="middle">Nb. IRF8 peaks</text>
<text stroke="#000" stroke-width="0.3" x="-1" y="436" font-family="Liberation Sans" font-weight="bold" font-size="13.2">B</text>
<rect x="128" y="439.60" width="115.9" height="3.6" fill="#ebb630" stroke="#1a1a1a" stroke-width="0.7"/>
<text stroke="#000" stroke-width="0.3" x="122" y="444.40" font-family="Liberation Sans" font-size="7.3" text-anchor="end">M phase</text>
<rect x="128" y="448.13" width="109.7" height="3.6" fill="#ebb630" stroke="#1a1a1a" stroke-width="0.7"/>
<text stroke="#000" stroke-width="0.3" x="122" y="452.93" font-family="Liberation Sans" font-size="7.3" text-anchor="end">nuclear division</text>
<rect x="128" y="456.66" width="93.8" height="3.6" fill="#ebb630" stroke="#1a1a1a" stroke-width="0.7"/>
<text stroke="#000" stroke-width="0.3" x="122" y="461.46" font-family="Liberation Sans" font-size="7.3" text-anchor="end">cell cycle</text>
<rect x="128" y="465.19" width="40.0" height="3.6" fill="#ebb630" stroke="#1a1a1a" stroke-width="0.7"/>
<text stroke="#000" stroke-width="0.3" x="122" y="469.99" font-family="Liberation Sans" font-size="7.3" text-anchor="end">gas transport</text>
<rect x="128" y="473.72" width="39.4" height="3.6" fill="#ebb630" stroke="#1a1a1a" stroke-width="0.7"/>
<text stroke="#000" stroke-width="0.3" x="122" y="478.52" font-family="Liberation Sans" font-size="7.3" text-anchor="end">chromosome segregation</text>
<rect x="128" y="482.25" width="30.2" height="3.6" fill="#ebb630" stroke="#1a1a1a" stroke-width="0.7"/>
<text stroke="#000" stroke-width="0.3" x="122" y="487.05" font-family="Liberation Sans" font-size="7.3" text-anchor="end">DNA replication</text>
<rect x="128" y="490.78" width="21.0" height="3.6" fill="#ebb630" stroke="#1a1a1a" stroke-width="0.7"/>
<text stroke="#000" stroke-width="0.3" x="122" y="495.58" font-family="Liberation Sans" font-size="7.3" text-anchor="end">oxygen transport</text>
<rect x="128" y="499.31" width="10.8" height="3.6" fill="#ebb630" stroke="#1a1a1a" stroke-width="0.7"/>
<text stroke="#000" stroke-width="0.3" x="122" y="504.11" font-family="Liberation Sans" font-size="7.3" text-anchor="end">organismal catabolic process</text>
<rect x="128" y="507.84" width="9.0" height="3.6" fill="#ebb630" stroke="#1a1a1a" stroke-width="0.7"/>
<text stroke="#000" stroke-width="0.3" x="122" y="512.64" font-family="Liberation Sans" font-size="7.3" text-anchor="end">PI-mediated signaling</text>
<rect x="128" y="516.37" width="9.0" height="3.6" fill="#ebb630" stroke="#1a1a1a" stroke-width="0.7"/>
<text stroke="#000" stroke-width="0.3" x="122" y="521.17" font-family="Liberation Sans" font-size="7.3" text-anchor="end">erythrocyte differentiation</text>
<rect x="128" y="524.90" width="7.0" height="3.6" fill="#ebb630" stroke="#1a1a1a" stroke-width="0.7"/>
<text stroke="#000" stroke-width="0.3" x="122" y="529.70" font-family="Liberation Sans" font-size="7.3" text-anchor="end">carbon dioxide transport</text>
<path d="M128 439.1 V530.3 H250" stroke="#000" stroke-width="1.3" fill="none"/>
<line x1="159" y1="530.3" x2="159" y2="531.9" stroke="#000" stroke-width="0.8"/>
<text stroke="#000" stroke-width="0.3" x="161.4" y="544.0" font-family="Liberation Sans" font-weight="bold" font-size="9.3" text-anchor="end">10</text>
<text stroke="#000" stroke-width="0.3" x="161.6" y="540.2" font-family="Liberation Sans" font-weight="bold" font-size="5.6">-5</text>
<line x1="189.5" y1="530.3" x2="189.5" y2="531.9" stroke="#000" stroke-width="0.8"/>
<text stroke="#000" stroke-width="0.3" x="191.9" y="544.0" font-family="Liberation Sans" font-weight="bold" font-size="9.3" text-anchor="end">10</text>
<text stroke="#000" stroke-width="0.3" x="192.1" y="540.2" font-family="Liberation Sans" font-weight="bold" font-size="5.6">-10</text>
<line x1="220" y1="530.3" x2="220" y2="531.9" stroke="#000" stroke-width="0.8"/>
<text stroke="#000" stroke-width="0.3" x="222.4" y="544.0" font-family="Liberation Sans" font-weight="bold" font-size="9.3" text-anchor="end">10</text>
<text stroke="#000" stroke-width="0.3" x="222.6" y="540.2" font-family="Liberation Sans" font-weight="bold" font-size="5.6">-15</text>
<line x1="250.5" y1="530.3" x2="250.5" y2="531.9" stroke="#000" stroke-width="0.8"/>
<text stroke="#000" stroke-width="0.3" x="252.9" y="544.0" font-family="Liberation Sans" font-weight="bold" font-size="9.3" text-anchor="end">10</text>
<text stroke="#000" stroke-width="0.3" x="253.1" y="540.2" font-family="Liberation Sans" font-weight="bold" font-size="5.6">-20</text>
<text stroke="#000" stroke-width="0.3" x="190.8" y="556" font-family="Liberation Sans" font-weight="bold" font-size="8.8" text-anchor="middle">GO term enrichment <tspan font-style="italic">p</tspan> Values</text>
<rect x="126" y="569.10" width="99.0" height="3.6" fill="#3f74aa" stroke="#1a1a1a" stroke-width="0.7"/>
<text stroke="#000" stroke-width="0.3" x="119.5" y="574.40" font-family="Liberation Sans" font-size="7.3" text-anchor="end">lymphocyte activation</text>
<rect x="126" y="577.63" width="82.9" height="3.6" fill="#3f74aa" stroke="#1a1a1a" stroke-width="0.7"/>
<text stroke="#000" stroke-width="0.3" x="119.5" y="582.93" font-family="Liberation Sans" font-size="7.3" text-anchor="end">apoptosis</text>
<rect x="126" y="586.16" width="72.0" height="3.6" fill="#3f74aa" stroke="#1a1a1a" stroke-width="0.7"/>
<text stroke="#000" stroke-width="0.3" x="119.5" y="591.46" font-family="Liberation Sans" font-size="7.3" text-anchor="end">immune response</text>
<rect x="126" y="594.69" width="68.9" height="3.6" fill="#3f74aa" stroke="#1a1a1a" stroke-width="0.7"/>
<text stroke="#000" stroke-width="0.3" x="119.5" y="599.99" font-family="Liberation Sans" font-size="7.3" text-anchor="end">negative regulation of kinase activity</text>
<rect x="126" y="603.22" width="53.2" height="3.6" fill="#3f74aa" stroke="#1a1a1a" stroke-width="0.7"/>
<text stroke="#000" stroke-width="0.3" x="119.5" y="608.52" font-family="Liberation Sans" font-size="7.3" text-anchor="end">defense response</text>
<rect x="126" y="611.75" width="46.5" height="3.6" fill="#3f74aa" stroke="#1a1a1a" stroke-width="0.7"/>
<text stroke="#000" stroke-width="0.3" x="119.5" y="617.05" font-family="Liberation Sans" font-size="7.3" text-anchor="end">T cell activation</text>
<rect x="126" y="620.28" width="44.0" height="3.6" fill="#3f74aa" stroke="#1a1a1a" stroke-width="0.7"/>
<text stroke="#000" stroke-width="0.3" x="119.5" y="625.58" font-family="Liberation Sans" font-size="7.3" text-anchor="end">cytokine production</text>
<rect x="126" y="628.81" width="44.0" height="3.6" fill="#3f74aa" stroke="#1a1a1a" stroke-width="0.7"/>
<text stroke="#000" stroke-width="0.3" x="119.5" y="634.11" font-family="Liberation Sans" font-size="7.3" text-anchor="end">NFκB cascade</text>
<rect x="126" y="637.34" width="42.5" height="3.6" fill="#3f74aa" stroke="#1a1a1a" stroke-width="0.7"/>
<text stroke="#000" stroke-width="0.3" x="119.5" y="642.64" font-family="Liberation Sans" font-size="7.3" text-anchor="end">transcription</text>
<rect x="126" y="645.87" width="39.8" height="3.6" fill="#3f74aa" stroke="#1a1a1a" stroke-width="0.7"/>
<text stroke="#000" stroke-width="0.3" x="119.5" y="651.17" font-family="Liberation Sans" font-size="7.3" text-anchor="end">transmemb. receptor tyrosine kinase</text>
<rect x="126" y="654.40" width="33.0" height="3.6" fill="#3f74aa" stroke="#1a1a1a" stroke-width="0.7"/>
<text stroke="#000" stroke-width="0.3" x="119.5" y="659.70" font-family="Liberation Sans" font-size="7.3" text-anchor="end">intracellular cholesterol transport</text>
<path d="M126 568.6 V660.4 H248" stroke="#000" stroke-width="1.3" fill="none"/>
<line x1="158" y1="660.4" x2="158" y2="662.0" stroke="#000" stroke-width="0.8"/>
<text stroke="#000" stroke-width="0.3" x="160.4" y="674.1" font-family="Liberation Sans" font-weight="bold" font-size="9.3" text-anchor="end">10</text>
<text stroke="#000" stroke-width="0.3" x="160.6" y="670.3" font-family="Liberation Sans" font-weight="bold" font-size="5.6">-2</text>
<line x1="189.5" y1="660.4" x2="189.5" y2="662.0" stroke="#000" stroke-width="0.8"/>
<text stroke="#000" stroke-width="0.3" x="191.9" y="674.1" font-family="Liberation Sans" font-weight="bold" font-size="9.3" text-anchor="end">10</text>
<text stroke="#000" stroke-width="0.3" x="192.1" y="670.3" font-family="Liberation Sans" font-weight="bold" font-size="5.6">-3</text>
<line x1="220" y1="660.4" x2="220" y2="662.0" stroke="#000" stroke-width="0.8"/>
<text stroke="#000" stroke-width="0.3" x="222.4" y="674.1" font-family="Liberation Sans" font-weight="bold" font-size="9.3" text-anchor="end">10</text>
<text stroke="#000" stroke-width="0.3" x="222.6" y="670.3" font-family="Liberation Sans" font-weight="bold" font-size="5.6">-4</text>
<line x1="250.3" y1="660.4" x2="250.3" y2="662.0" stroke="#000" stroke-width="0.8"/>
<text stroke="#000" stroke-width="0.3" x="252.7" y="674.1" font-family="Liberation Sans" font-weight="bold" font-size="9.3" text-anchor="end">10</text>
<text stroke="#000" stroke-width="0.3" x="252.9" y="670.3" font-family="Liberation Sans" font-weight="bold" font-size="5.6">-5</text>
<text stroke="#000" stroke-width="0.3" x="190.8" y="685.5" font-family="Liberation Sans" font-weight="bold" font-size="8.8" text-anchor="middle">GO term enrichment <tspan font-style="italic">p</tspan> Values</text>
<text stroke="#000" stroke-width="0.3" x="254.7" y="9.3" font-family="Liberation Sans" font-weight="bold" font-size="13.2">C</text>
<text stroke="#000" stroke-width="0.3" x="332.5" y="16.8" font-family="Liberation Serif" font-weight="bold" font-size="9.8" text-anchor="middle">Neutrophil (vs monocytes)</text>
<rect x="280.4" y="19.4" width="104.2" height="69.8" fill="#fff" stroke="#b4b4b4" stroke-width="0.7"/>
<line x1="280.4" y1="61.8" x2="384.6" y2="61.8" stroke="#d6d6d6" stroke-width="0.7"/>
<rect x="280.40" y="69.0" width="1.62" height="15.9" fill="rgb(69,69,69)"/>
<rect x="282.02" y="69.0" width="2.02" height="15.9" fill="rgb(74,74,74)"/>
<rect x="284.04" y="69.0" width="2.16" height="15.9" fill="rgb(63,63,63)"/>
<rect x="286.47" y="69.0" width="3.13" height="15.9" fill="rgb(63,63,63)"/>
<rect x="290.01" y="69.0" width="2.11" height="15.9" fill="rgb(63,63,63)"/>
<rect x="292.12" y="69.0" width="2.52" height="15.9" fill="rgb(60,60,60)"/>
<rect x="295.56" y="69.0" width="1.85" height="15.9" fill="rgb(60,60,60)"/>
<rect x="298.17" y="69.0" width="2.60" height="15.9" fill="rgb(43,43,43)"/>
<rect x="301.06" y="69.0" width="1.15" height="15.9" fill="rgb(43,43,43)"/>
<rect x="302.21" y="69.0" width="1.10" height="15.9" fill="rgb(34,34,34)"/>
<rect x="304.78" y="69.0" width="1.10" height="15.9" fill="rgb(34,34,34)"/>
<rect x="307.33" y="69.0" width="0.94" height="15.9" fill="rgb(34,34,34)"/>
<rect x="308.27" y="69.0" width="0.58" height="15.9" fill="rgb(163,163,163)"/>
<rect x="311.82" y="69.0" width="0.49" height="15.9" fill="rgb(163,163,163)"/>
<rect x="312.31" y="69.0" width="3.05" height="15.9" fill="rgb(42,42,42)"/>
<rect x="315.36" y="69.0" width="0.99" height="15.9" fill="rgb(126,126,126)"/>
<rect x="316.35" y="69.0" width="0.77" height="15.9" fill="rgb(200,200,200)"/>
<rect x="319.38" y="69.0" width="1.28" height="15.9" fill="rgb(151,151,151)"/>
<rect x="322.21" y="69.0" width="1.16" height="15.9" fill="rgb(151,151,151)"/>
<rect x="323.42" y="69.0" width="3.03" height="15.9" fill="rgb(49,49,49)"/>
<rect x="326.45" y="69.0" width="1.36" height="15.9" fill="rgb(68,68,68)"/>
<rect x="329.66" y="69.0" width="1.17" height="15.9" fill="rgb(138,138,138)"/>
<rect x="332.50" y="69.0" width="0.50" height="15.9" fill="rgb(170,170,170)"/>
<rect x="335.13" y="69.0" width="0.41" height="15.9" fill="rgb(170,170,170)"/>
<rect x="335.53" y="69.0" width="3.03" height="15.9" fill="rgb(31,31,31)"/>
<rect x="338.56" y="69.0" width="1.73" height="15.9" fill="rgb(118,118,118)"/>
<rect x="340.98" y="69.0" width="2.04" height="15.9" fill="rgb(123,123,123)"/>
<rect x="343.84" y="69.0" width="0.78" height="15.9" fill="rgb(55,55,55)"/>
<rect x="344.62" y="69.0" width="2.28" height="15.9" fill="rgb(42,42,42)"/>
<rect x="347.16" y="69.0" width="1.50" height="15.9" fill="rgb(42,42,42)"/>
<rect x="348.66" y="69.0" width="2.13" height="15.9" fill="rgb(182,182,182)"/>
<rect x="351.48" y="69.0" width="0.20" height="15.9" fill="rgb(182,182,182)"/>
<rect x="351.69" y="69.0" width="2.97" height="15.9" fill="rgb(53,53,53)"/>
<rect x="355.12" y="69.0" width="1.62" height="15.9" fill="rgb(53,53,53)"/>
<rect x="356.74" y="69.0" width="1.88" height="15.9" fill="rgb(51,51,51)"/>
<rect x="359.75" y="69.0" width="1.60" height="15.9" fill="rgb(51,51,51)"/>
<rect x="362.33" y="69.0" width="2.02" height="15.9" fill="rgb(51,51,51)"/>
<rect x="364.81" y="69.0" width="2.78" height="15.9" fill="rgb(73,73,73)"/>
<rect x="367.59" y="69.0" width="1.26" height="15.9" fill="rgb(73,73,73)"/>
<rect x="368.85" y="69.0" width="2.63" height="15.9" fill="rgb(169,169,169)"/>
<rect x="372.45" y="69.0" width="0.44" height="15.9" fill="rgb(200,200,200)"/>
<rect x="372.89" y="69.0" width="1.35" height="15.9" fill="rgb(55,55,55)"/>
<rect x="375.33" y="69.0" width="1.56" height="15.9" fill="rgb(55,55,55)"/>
<rect x="376.93" y="69.0" width="2.05" height="15.9" fill="rgb(200,200,200)"/>
<rect x="379.51" y="69.0" width="1.46" height="15.9" fill="rgb(176,176,176)"/>
<rect x="380.97" y="69.0" width="1.53" height="15.9" fill="rgb(43,43,43)"/>
<rect x="383.53" y="69.0" width="1.07" height="15.9" fill="rgb(43,43,43)"/>
<rect x="280.4" y="84.9" width="104.2" height="4.2" fill="url(#rk)"/>
<path d="M280.9 59.3 L280.9 54.3 L282.0 45.2 L284.0 38.2 L286.1 33.1 L288.1 29.1 L289.6 27.6 L291.1 26.1 L292.6 24.4 L294.1 23.0 L295.7 22.1 L297.2 21.4 L299.2 21.0 L300.7 21.6 L302.2 22.0 L303.6 23.2 L304.9 23.8 L306.3 25.0 L307.5 25.2 L308.7 27.8 L309.9 29.2 L311.1 29.2 L312.3 31.1 L313.7 32.1 L315.0 33.9 L316.3 35.1 L317.7 36.1 L319.0 37.7 L320.4 39.2 L321.7 40.6 L323.1 41.7 L324.4 42.9 L325.8 44.6 L327.1 45.0 L328.5 46.2 L329.8 46.7 L331.2 47.5 L332.5 48.5 L333.9 49.4 L335.2 50.0 L336.5 50.9 L337.9 51.9 L339.2 52.2 L340.6 52.4 L341.9 53.3 L343.3 53.2 L344.6 54.3 L346.0 54.6 L347.3 54.9 L348.7 55.8 L350.0 56.0 L351.4 56.7 L352.7 57.3 L354.0 57.4 L355.4 57.5 L356.7 58.4 L358.1 58.6 L359.4 58.8 L360.8 59.3 L362.1 60.1 L363.5 59.8 L364.8 60.3 L366.2 60.6 L367.5 60.8 L368.9 61.3 L370.2 61.6 L371.5 61.9 L372.9 62.1 L374.2 62.9 L375.6 62.6 L376.9 63.4 L378.4 63.8 L379.8 63.7 L381.2 64.0 L382.7 64.3 L384.1 65.0" fill="none" stroke="#40cc48" stroke-width="1.4" stroke-linejoin="round"/>
<text stroke="#000" stroke-width="0.3" x="336.8" y="29.3" font-family="Liberation Sans" font-weight="bold" font-size="7.45">NES = -1.59</text>
<text stroke="#000" stroke-width="0.3" x="336.8" y="37.7" font-family="Liberation Sans" font-weight="bold" font-size="7.45">FDR = 4.7E-3</text>
<text stroke="#cc2f3e" stroke-width="0.3" x="280.4" y="98.2" font-family="Liberation Sans" font-size="7.2" fill="#cc2f3e">High in K108E</text>
<text stroke="#2e4a98" stroke-width="0.3" x="385.1" y="98.2" font-family="Liberation Sans" font-size="7.2" fill="#2e4a98" text-anchor="end">Low in K108E</text>
<text stroke="#000" stroke-width="0.3" x="465.2" y="17.2" font-family="Liberation Serif" font-weight="bold" font-size="9.8" text-anchor="middle">DC LPS-activated</text>
<rect x="413.5" y="19.8" width="103.5" height="69.8" fill="#fff" stroke="#b4b4b4" stroke-width="0.7"/>
<line x1="413.5" y1="24.3" x2="517" y2="24.3" stroke="#d6d6d6" stroke-width="0.7"/>
<rect x="414.02" y="69.4" width="1.35" height="15.9" fill="rgb(140,140,140)"/>
<rect x="416.84" y="69.4" width="0.21" height="15.9" fill="rgb(56,56,56)"/>
<rect x="417.05" y="69.4" width="1.08" height="15.9" fill="rgb(171,171,171)"/>
<rect x="420.08" y="69.4" width="1.56" height="15.9" fill="rgb(40,40,40)"/>
<rect x="422.72" y="69.4" width="1.40" height="15.9" fill="rgb(40,40,40)"/>
<rect x="424.12" y="69.4" width="1.65" height="15.9" fill="rgb(35,35,35)"/>
<rect x="427.38" y="69.4" width="0.78" height="15.9" fill="rgb(112,112,112)"/>
<rect x="428.16" y="69.4" width="2.38" height="15.9" fill="rgb(63,63,63)"/>
<rect x="431.35" y="69.4" width="0.84" height="15.9" fill="rgb(143,143,143)"/>
<rect x="432.19" y="69.4" width="3.00" height="15.9" fill="rgb(47,47,47)"/>
<rect x="435.46" y="69.4" width="0.77" height="15.9" fill="rgb(47,47,47)"/>
<rect x="436.23" y="69.4" width="2.62" height="15.9" fill="rgb(122,122,122)"/>
<rect x="438.85" y="69.4" width="0.41" height="15.9" fill="rgb(71,71,71)"/>
<rect x="439.26" y="69.4" width="2.04" height="15.9" fill="rgb(60,60,60)"/>
<rect x="442.29" y="69.4" width="1.44" height="15.9" fill="rgb(200,200,200)"/>
<rect x="461.47" y="69.4" width="2.97" height="15.9" fill="rgb(42,42,42)"/>
<rect x="464.53" y="69.4" width="0.98" height="15.9" fill="rgb(42,42,42)"/>
<rect x="465.51" y="69.4" width="1.79" height="15.9" fill="rgb(34,34,34)"/>
<rect x="468.54" y="69.4" width="0.88" height="15.9" fill="rgb(173,173,173)"/>
<rect x="470.94" y="69.4" width="1.00" height="15.9" fill="rgb(173,173,173)"/>
<rect x="472.58" y="69.4" width="1.64" height="15.9" fill="rgb(37,37,37)"/>
<rect x="475.81" y="69.4" width="0.81" height="15.9" fill="rgb(37,37,37)"/>
<rect x="476.62" y="69.4" width="1.94" height="15.9" fill="rgb(49,49,49)"/>
<rect x="479.13" y="69.4" width="1.52" height="15.9" fill="rgb(49,49,49)"/>
<rect x="480.66" y="69.4" width="1.85" height="15.9" fill="rgb(52,52,52)"/>
<rect x="484.04" y="69.4" width="0.66" height="15.9" fill="rgb(52,52,52)"/>
<rect x="484.70" y="69.4" width="2.10" height="15.9" fill="rgb(53,53,53)"/>
<rect x="487.66" y="69.4" width="1.08" height="15.9" fill="rgb(53,53,53)"/>
<rect x="488.74" y="69.4" width="2.93" height="15.9" fill="rgb(42,42,42)"/>
<rect x="492.30" y="69.4" width="0.48" height="15.9" fill="rgb(82,82,82)"/>
<rect x="492.78" y="69.4" width="2.53" height="15.9" fill="rgb(54,54,54)"/>
<rect x="495.30" y="69.4" width="1.51" height="15.9" fill="rgb(54,54,54)"/>
<rect x="496.81" y="69.4" width="3.45" height="15.9" fill="rgb(70,70,70)"/>
<rect x="500.27" y="69.4" width="0.59" height="15.9" fill="rgb(141,141,141)"/>
<rect x="500.85" y="69.4" width="2.29" height="15.9" fill="rgb(48,48,48)"/>
<rect x="503.83" y="69.4" width="1.06" height="15.9" fill="rgb(98,98,98)"/>
<rect x="504.89" y="69.4" width="3.11" height="15.9" fill="rgb(68,68,68)"/>
<rect x="508.00" y="69.4" width="0.93" height="15.9" fill="rgb(68,68,68)"/>
<rect x="508.93" y="69.4" width="1.07" height="15.9" fill="rgb(200,200,200)"/>
<rect x="511.71" y="69.4" width="0.25" height="15.9" fill="rgb(151,151,151)"/>
<rect x="511.96" y="69.4" width="1.44" height="15.9" fill="rgb(31,31,31)"/>
<rect x="514.51" y="69.4" width="1.66" height="15.9" fill="rgb(31,31,31)"/>
<rect x="413.5" y="85.3" width="103.5" height="4.2" fill="url(#rk)"/>
<path d="M414.0 23.0 L415.4 23.5 L416.7 23.2 L418.1 24.0 L419.3 25.1 L420.6 25.4 L421.8 25.9 L423.1 26.7 L424.6 27.1 L426.1 26.1 L427.5 26.4 L428.8 26.5 L430.2 27.1 L431.5 27.4 L432.9 27.9 L434.2 28.1 L435.6 29.0 L436.9 29.4 L438.3 30.1 L439.5 30.8 L440.7 31.9 L441.9 32.9 L443.1 33.8 L444.3 35.1 L445.7 36.3 L447.0 37.3 L448.3 38.7 L449.7 39.6 L451.0 40.7 L452.4 42.2 L453.7 43.3 L455.1 44.4 L456.4 46.1 L457.8 46.6 L459.1 48.1 L460.5 49.2 L461.8 50.2 L463.2 50.9 L464.5 52.5 L465.9 53.3 L467.2 53.6 L468.5 55.3 L469.8 56.5 L471.0 57.6 L472.2 58.1 L473.4 59.8 L474.6 60.3 L475.9 61.7 L477.3 62.7 L478.6 64.4 L480.2 65.2 L481.7 65.8 L483.2 65.3 L484.7 65.0 L486.0 64.8 L487.4 64.8 L488.7 65.8 L490.1 65.6 L491.4 65.0 L492.8 65.0 L494.1 62.6 L495.5 60.0 L496.8 57.3 L498.2 55.1 L499.5 53.1 L500.9 51.3 L502.2 49.1 L503.5 46.4 L504.9 43.2 L506.4 40.4 L507.9 37.1 L509.4 36.0 L510.9 35.1 L512.5 33.3 L514.0 32.1 L516.0 24.0" fill="none" stroke="#40cc48" stroke-width="1.4" stroke-linejoin="round"/>
<text stroke="#000" stroke-width="0.3" x="414.5" y="57.8" font-family="Liberation Sans" font-weight="bold" font-size="7.45">NES = -1.80</text>
<text stroke="#000" stroke-width="0.3" x="414.5" y="66.2" font-family="Liberation Sans" font-weight="bold" font-size="7.45">FDR = 2.9E-5</text>
<text stroke="#cc2f3e" stroke-width="0.3" x="413.5" y="98.6" font-family="Liberation Sans" font-size="7.2" fill="#cc2f3e">High in K108E</text>
<text stroke="#2e4a98" stroke-width="0.3" x="517.5" y="98.6" font-family="Liberation Sans" font-size="7.2" fill="#2e4a98" text-anchor="end">Low in K108E</text>
<text stroke="#000" stroke-width="0.3" x="332.5" y="149.5" font-family="Liberation Serif" font-weight="bold" font-size="9.8" text-anchor="middle">Monocyte</text>
<text stroke="#000" stroke-width="0.3" x="332.5" y="160.2" font-family="Liberation Serif" font-weight="bold" font-size="9.8" text-anchor="middle">(vs neutrophils)</text>
<rect x="280.4" y="163.4" width="104.2" height="69.8" fill="#fff" stroke="#b4b4b4" stroke-width="0.7"/>
<line x1="280.4" y1="166.9" x2="384.6" y2="166.9" stroke="#d6d6d6" stroke-width="0.7"/>
<rect x="280.40" y="213.0" width="1.10" height="15.9" fill="rgb(168,168,168)"/>
<rect x="283.03" y="213.0" width="0.99" height="15.9" fill="rgb(49,49,49)"/>
<rect x="285.60" y="213.0" width="0.46" height="15.9" fill="rgb(49,49,49)"/>
<rect x="286.06" y="213.0" width="0.50" height="15.9" fill="rgb(171,171,171)"/>
<rect x="289.09" y="213.0" width="1.96" height="15.9" fill="rgb(64,64,64)"/>
<rect x="292.46" y="213.0" width="1.56" height="15.9" fill="rgb(154,154,154)"/>
<rect x="294.14" y="213.0" width="1.84" height="15.9" fill="rgb(34,34,34)"/>
<rect x="297.33" y="213.0" width="0.84" height="15.9" fill="rgb(99,99,99)"/>
<rect x="298.17" y="213.0" width="1.83" height="15.9" fill="rgb(74,74,74)"/>
<rect x="301.16" y="213.0" width="1.05" height="15.9" fill="rgb(74,74,74)"/>
<rect x="302.21" y="213.0" width="2.37" height="15.9" fill="rgb(37,37,37)"/>
<rect x="305.47" y="213.0" width="0.78" height="15.9" fill="rgb(86,86,86)"/>
<rect x="306.25" y="213.0" width="3.03" height="15.9" fill="rgb(41,41,41)"/>
<rect x="328.47" y="213.0" width="1.65" height="15.9" fill="rgb(40,40,40)"/>
<rect x="330.95" y="213.0" width="2.04" height="15.9" fill="rgb(40,40,40)"/>
<rect x="333.51" y="213.0" width="0.50" height="15.9" fill="rgb(154,154,154)"/>
<rect x="336.25" y="213.0" width="0.50" height="15.9" fill="rgb(154,154,154)"/>
<rect x="338.56" y="213.0" width="1.53" height="15.9" fill="rgb(69,69,69)"/>
<rect x="341.12" y="213.0" width="1.48" height="15.9" fill="rgb(69,69,69)"/>
<rect x="342.60" y="213.0" width="2.55" height="15.9" fill="rgb(61,61,61)"/>
<rect x="345.43" y="213.0" width="1.21" height="15.9" fill="rgb(61,61,61)"/>
<rect x="346.64" y="213.0" width="1.04" height="15.9" fill="rgb(168,168,168)"/>
<rect x="349.22" y="213.0" width="0.45" height="15.9" fill="rgb(200,200,200)"/>
<rect x="349.67" y="213.0" width="3.03" height="15.9" fill="rgb(65,65,65)"/>
<rect x="352.70" y="213.0" width="2.02" height="15.9" fill="rgb(123,123,123)"/>
<rect x="355.38" y="213.0" width="1.36" height="15.9" fill="rgb(65,65,65)"/>
<rect x="356.74" y="213.0" width="1.82" height="15.9" fill="rgb(45,45,45)"/>
<rect x="360.17" y="213.0" width="0.60" height="15.9" fill="rgb(45,45,45)"/>
<rect x="360.78" y="213.0" width="2.72" height="15.9" fill="rgb(31,31,31)"/>
<rect x="363.96" y="213.0" width="0.85" height="15.9" fill="rgb(31,31,31)"/>
<rect x="364.81" y="213.0" width="2.86" height="15.9" fill="rgb(37,37,37)"/>
<rect x="367.82" y="213.0" width="1.03" height="15.9" fill="rgb(37,37,37)"/>
<rect x="368.85" y="213.0" width="2.36" height="15.9" fill="rgb(50,50,50)"/>
<rect x="371.38" y="213.0" width="1.51" height="15.9" fill="rgb(50,50,50)"/>
<rect x="372.89" y="213.0" width="3.39" height="15.9" fill="rgb(39,39,39)"/>
<rect x="376.43" y="213.0" width="0.51" height="15.9" fill="rgb(39,39,39)"/>
<rect x="376.93" y="213.0" width="3.10" height="15.9" fill="rgb(35,35,35)"/>
<rect x="380.50" y="213.0" width="0.47" height="15.9" fill="rgb(35,35,35)"/>
<rect x="380.97" y="213.0" width="2.44" height="15.9" fill="rgb(127,127,127)"/>
<rect x="383.82" y="213.0" width="0.78" height="15.9" fill="rgb(69,69,69)"/>
<rect x="280.4" y="228.9" width="104.2" height="4.2" fill="url(#rk)"/>
<path d="M280.9 166.4 L282.2 166.9 L283.5 168.0 L284.8 168.8 L286.1 169.1 L287.3 169.9 L288.5 169.5 L289.7 169.8 L290.9 170.1 L292.1 171.1 L293.3 171.7 L294.5 171.5 L295.8 172.2 L297.0 172.2 L298.2 173.1 L299.4 173.3 L300.6 173.8 L301.8 174.4 L303.0 174.9 L304.2 175.1 L305.4 176.0 L306.7 177.3 L307.9 177.7 L309.1 177.8 L310.3 179.1 L311.6 180.2 L313.0 181.5 L314.3 182.2 L315.7 183.5 L317.0 183.9 L318.4 185.2 L319.7 186.1 L321.1 187.7 L322.4 188.9 L323.8 190.0 L325.1 191.2 L326.4 192.2 L327.8 193.5 L329.1 193.8 L330.5 195.7 L331.8 196.4 L333.2 197.5 L334.5 198.3 L335.9 199.1 L337.2 200.1 L338.6 200.8 L339.9 201.9 L341.3 202.4 L342.6 203.3 L344.0 204.3 L345.4 205.4 L346.8 206.0 L348.3 207.5 L349.7 208.0 L351.0 208.3 L352.4 208.8 L353.7 209.4 L355.1 208.6 L356.4 208.6 L357.7 208.0 L359.0 207.3 L360.3 206.5 L361.5 205.8 L362.8 205.3 L364.1 204.1 L365.5 202.9 L366.8 202.3 L368.2 200.7 L369.5 199.1 L370.9 197.3 L372.2 195.1 L373.6 192.6 L374.9 190.2 L376.4 186.5 L377.9 182.2 L379.5 178.3 L381.0 174.1 L383.0 168.0 L384.1 166.0" fill="none" stroke="#40cc48" stroke-width="1.4" stroke-linejoin="round"/>
<text stroke="#000" stroke-width="0.3" x="282.5" y="201.6" font-family="Liberation Sans" font-weight="bold" font-size="7.45">NES = -2.24</text>
<text stroke="#000" stroke-width="0.3" x="282.5" y="210.0" font-family="Liberation Sans" font-weight="bold" font-size="7.45">FDR = 0.0</text>
<text stroke="#cc2f3e" stroke-width="0.3" x="280.4" y="242.2" font-family="Liberation Sans" font-size="7.2" fill="#cc2f3e">High in K108E</text>
<text stroke="#2e4a98" stroke-width="0.3" x="385.1" y="242.2" font-family="Liberation Sans" font-size="7.2" fill="#2e4a98" text-anchor="end">Low in K108E</text>
<text stroke="#000" stroke-width="0.3" x="465.2" y="149.6" font-family="Liberation Serif" font-weight="bold" font-size="9.8" text-anchor="middle">Th1 act. CD4 T cells</text>
<text stroke="#000" stroke-width="0.3" x="465.2" y="160.3" font-family="Liberation Serif" font-weight="bold" font-size="9.8" text-anchor="middle">(vs Naïve CD4)</text>
<rect x="413.5" y="163.5" width="103.5" height="69.8" fill="#fff" stroke="#b4b4b4" stroke-width="0.7"/>
<line x1="413.5" y1="170.0" x2="517" y2="170.0" stroke="#d6d6d6" stroke-width="0.7"/>
<rect x="416.04" y="213.1" width="2.02" height="15.9" fill="rgb(173,173,173)"/>
<rect x="418.06" y="213.1" width="1.29" height="15.9" fill="rgb(53,53,53)"/>
<rect x="420.80" y="213.1" width="0.29" height="15.9" fill="rgb(53,53,53)"/>
<rect x="421.09" y="213.1" width="0.50" height="15.9" fill="rgb(165,165,165)"/>
<rect x="423.70" y="213.1" width="0.42" height="15.9" fill="rgb(165,165,165)"/>
<rect x="424.12" y="213.1" width="1.66" height="15.9" fill="rgb(47,47,47)"/>
<rect x="426.52" y="213.1" width="1.63" height="15.9" fill="rgb(47,47,47)"/>
<rect x="428.16" y="213.1" width="1.74" height="15.9" fill="rgb(105,105,105)"/>
<rect x="430.60" y="213.1" width="1.60" height="15.9" fill="rgb(117,117,117)"/>
<rect x="432.19" y="213.1" width="1.54" height="15.9" fill="rgb(79,79,79)"/>
<rect x="434.88" y="213.1" width="0.34" height="15.9" fill="rgb(34,34,34)"/>
<rect x="435.22" y="213.1" width="1.68" height="15.9" fill="rgb(45,45,45)"/>
<rect x="438.40" y="213.1" width="0.87" height="15.9" fill="rgb(45,45,45)"/>
<rect x="439.26" y="213.1" width="1.17" height="15.9" fill="rgb(56,56,56)"/>
<rect x="442.29" y="213.1" width="0.50" height="15.9" fill="rgb(152,152,152)"/>
<rect x="445.83" y="213.1" width="0.50" height="15.9" fill="rgb(152,152,152)"/>
<rect x="447.34" y="213.1" width="1.35" height="15.9" fill="rgb(42,42,42)"/>
<rect x="460.47" y="213.1" width="3.12" height="15.9" fill="rgb(50,50,50)"/>
<rect x="463.81" y="213.1" width="0.69" height="15.9" fill="rgb(50,50,50)"/>
<rect x="464.50" y="213.1" width="1.97" height="15.9" fill="rgb(34,34,34)"/>
<rect x="467.53" y="213.1" width="0.50" height="15.9" fill="rgb(151,151,151)"/>
<rect x="469.55" y="213.1" width="2.23" height="15.9" fill="rgb(57,57,57)"/>
<rect x="472.58" y="213.1" width="0.59" height="15.9" fill="rgb(190,190,190)"/>
<rect x="475.14" y="213.1" width="0.47" height="15.9" fill="rgb(190,190,190)"/>
<rect x="475.61" y="213.1" width="1.38" height="15.9" fill="rgb(44,44,44)"/>
<rect x="478.64" y="213.1" width="1.00" height="15.9" fill="rgb(200,200,200)"/>
<rect x="481.14" y="213.1" width="0.52" height="15.9" fill="rgb(180,180,180)"/>
<rect x="481.67" y="213.1" width="1.93" height="15.9" fill="rgb(35,35,35)"/>
<rect x="484.63" y="213.1" width="1.07" height="15.9" fill="rgb(117,117,117)"/>
<rect x="485.71" y="213.1" width="2.48" height="15.9" fill="rgb(45,45,45)"/>
<rect x="488.44" y="213.1" width="1.31" height="15.9" fill="rgb(45,45,45)"/>
<rect x="489.75" y="213.1" width="2.92" height="15.9" fill="rgb(92,92,92)"/>
<rect x="492.78" y="213.1" width="3.32" height="15.9" fill="rgb(56,56,56)"/>
<rect x="496.10" y="213.1" width="0.72" height="15.9" fill="rgb(56,56,56)"/>
<rect x="496.81" y="213.1" width="2.20" height="15.9" fill="rgb(124,124,124)"/>
<rect x="500.00" y="213.1" width="0.85" height="15.9" fill="rgb(48,48,48)"/>
<rect x="500.85" y="213.1" width="3.19" height="15.9" fill="rgb(160,160,160)"/>
<rect x="504.04" y="213.1" width="0.85" height="15.9" fill="rgb(74,74,74)"/>
<rect x="504.89" y="213.1" width="2.45" height="15.9" fill="rgb(36,36,36)"/>
<rect x="508.27" y="213.1" width="0.66" height="15.9" fill="rgb(36,36,36)"/>
<rect x="508.93" y="213.1" width="2.28" height="15.9" fill="rgb(40,40,40)"/>
<rect x="511.50" y="213.1" width="1.47" height="15.9" fill="rgb(40,40,40)"/>
<rect x="512.97" y="213.1" width="3.04" height="15.9" fill="rgb(64,64,64)"/>
<rect x="516.29" y="213.1" width="0.71" height="15.9" fill="rgb(64,64,64)"/>
<rect x="413.5" y="229.0" width="103.5" height="4.2" fill="url(#rk)"/>
<path d="M414.0 167.0 L415.0 169.1 L416.5 169.2 L418.1 169.1 L419.6 170.3 L421.1 171.1 L422.6 171.2 L424.1 170.5 L425.5 169.4 L426.8 169.4 L428.2 169.1 L429.5 169.3 L430.8 169.5 L432.2 170.1 L433.5 170.9 L434.9 171.4 L436.2 172.1 L437.4 173.1 L438.7 173.6 L439.9 174.8 L441.1 176.1 L442.3 177.1 L443.6 178.2 L445.0 179.3 L446.3 180.6 L447.7 181.7 L449.0 182.7 L450.4 184.2 L451.7 185.8 L453.1 186.3 L454.4 187.9 L455.8 189.1 L457.1 190.3 L458.4 191.2 L459.8 192.2 L461.1 193.3 L462.5 194.9 L463.8 196.0 L465.2 196.4 L466.5 198.3 L467.9 198.5 L469.2 200.1 L470.6 201.2 L471.9 202.2 L473.3 203.5 L474.6 204.3 L475.8 204.7 L477.0 206.3 L478.2 206.4 L479.4 207.1 L480.7 207.4 L481.9 207.8 L483.1 207.6 L484.3 208.6 L485.5 208.8 L486.7 209.4 L487.9 209.3 L489.1 208.9 L490.4 209.0 L491.6 208.3 L492.8 208.4 L494.1 207.3 L495.5 206.4 L496.8 205.3 L498.1 204.4 L499.3 203.7 L500.6 203.3 L501.9 202.3 L503.1 201.9 L504.4 200.2 L505.6 199.5 L506.9 198.3 L508.3 195.9 L509.6 194.1 L510.9 192.2 L512.5 187.3 L514.0 182.2 L515.4 174.1 L516.4 170.1" fill="none" stroke="#40cc48" stroke-width="1.4" stroke-linejoin="round"/>
<text stroke="#000" stroke-width="0.3" x="415.5" y="201.6" font-family="Liberation Sans" font-weight="bold" font-size="7.45">NES = -1.86</text>
<text stroke="#000" stroke-width="0.3" x="415.5" y="210.0" font-family="Liberation Sans" font-weight="bold" font-size="7.45">FDR = 0.0</text>
<text stroke="#cc2f3e" stroke-width="0.3" x="413.5" y="242.3" font-family="Liberation Sans" font-size="7.2" fill="#cc2f3e">High in K108E</text>
<text stroke="#2e4a98" stroke-width="0.3" x="517.5" y="242.3" font-family="Liberation Sans" font-size="7.2" fill="#2e4a98" text-anchor="end">Low in K108E</text>
<text stroke="#000" stroke-width="0.3" x="332.5" y="292.7" font-family="Liberation Serif" font-weight="bold" font-size="9.8" text-anchor="middle">DC</text>
<text stroke="#000" stroke-width="0.3" x="332.5" y="303.4" font-family="Liberation Serif" font-weight="bold" font-size="9.8" text-anchor="middle">(vs neutrophils)</text>
<rect x="280.4" y="306.6" width="104.2" height="69.8" fill="#fff" stroke="#b4b4b4" stroke-width="0.7"/>
<line x1="280.4" y1="312.1" x2="384.6" y2="312.1" stroke="#d6d6d6" stroke-width="0.7"/>
<rect x="282.02" y="356.2" width="1.35" height="15.9" fill="rgb(45,45,45)"/>
<rect x="284.04" y="356.2" width="0.50" height="15.9" fill="rgb(200,200,200)"/>
<rect x="286.06" y="356.2" width="3.01" height="15.9" fill="rgb(112,112,112)"/>
<rect x="289.09" y="356.2" width="1.55" height="15.9" fill="rgb(73,73,73)"/>
<rect x="292.12" y="356.2" width="2.43" height="15.9" fill="rgb(35,35,35)"/>
<rect x="295.48" y="356.2" width="0.68" height="15.9" fill="rgb(35,35,35)"/>
<rect x="296.16" y="356.2" width="1.62" height="15.9" fill="rgb(200,200,200)"/>
<rect x="299.18" y="356.2" width="2.99" height="15.9" fill="rgb(50,50,50)"/>
<rect x="302.40" y="356.2" width="0.83" height="15.9" fill="rgb(50,50,50)"/>
<rect x="303.22" y="356.2" width="2.16" height="15.9" fill="rgb(64,64,64)"/>
<rect x="306.47" y="356.2" width="0.79" height="15.9" fill="rgb(148,148,148)"/>
<rect x="307.26" y="356.2" width="3.20" height="15.9" fill="rgb(65,65,65)"/>
<rect x="310.47" y="356.2" width="0.83" height="15.9" fill="rgb(65,65,65)"/>
<rect x="329.47" y="356.2" width="2.42" height="15.9" fill="rgb(120,120,120)"/>
<rect x="331.90" y="356.2" width="1.61" height="15.9" fill="rgb(67,67,67)"/>
<rect x="333.51" y="356.2" width="0.50" height="15.9" fill="rgb(155,155,155)"/>
<rect x="336.54" y="356.2" width="1.79" height="15.9" fill="rgb(115,115,115)"/>
<rect x="339.44" y="356.2" width="1.14" height="15.9" fill="rgb(75,75,75)"/>
<rect x="340.58" y="356.2" width="1.94" height="15.9" fill="rgb(34,34,34)"/>
<rect x="343.03" y="356.2" width="1.59" height="15.9" fill="rgb(34,34,34)"/>
<rect x="344.62" y="356.2" width="2.02" height="15.9" fill="rgb(139,139,139)"/>
<rect x="347.85" y="356.2" width="0.81" height="15.9" fill="rgb(52,52,52)"/>
<rect x="348.66" y="356.2" width="2.71" height="15.9" fill="rgb(115,115,115)"/>
<rect x="351.68" y="356.2" width="1.02" height="15.9" fill="rgb(127,127,127)"/>
<rect x="352.70" y="356.2" width="1.98" height="15.9" fill="rgb(55,55,55)"/>
<rect x="356.26" y="356.2" width="0.48" height="15.9" fill="rgb(128,128,128)"/>
<rect x="356.74" y="356.2" width="2.36" height="15.9" fill="rgb(43,43,43)"/>
<rect x="360.23" y="356.2" width="0.55" height="15.9" fill="rgb(43,43,43)"/>
<rect x="360.78" y="356.2" width="3.35" height="15.9" fill="rgb(74,74,74)"/>
<rect x="364.24" y="356.2" width="0.57" height="15.9" fill="rgb(74,74,74)"/>
<rect x="364.81" y="356.2" width="1.54" height="15.9" fill="rgb(36,36,36)"/>
<rect x="367.47" y="356.2" width="1.38" height="15.9" fill="rgb(36,36,36)"/>
<rect x="368.85" y="356.2" width="2.03" height="15.9" fill="rgb(40,40,40)"/>
<rect x="371.34" y="356.2" width="1.55" height="15.9" fill="rgb(40,40,40)"/>
<rect x="372.89" y="356.2" width="2.33" height="15.9" fill="rgb(140,140,140)"/>
<rect x="375.97" y="356.2" width="0.96" height="15.9" fill="rgb(66,66,66)"/>
<rect x="376.93" y="356.2" width="1.53" height="15.9" fill="rgb(177,177,177)"/>
<rect x="379.96" y="356.2" width="2.76" height="15.9" fill="rgb(45,45,45)"/>
<rect x="382.72" y="356.2" width="0.27" height="15.9" fill="rgb(96,96,96)"/>
<rect x="382.99" y="356.2" width="1.36" height="15.9" fill="rgb(56,56,56)"/>
<rect x="280.4" y="372.1" width="104.2" height="4.2" fill="url(#rk)"/>
<path d="M280.9 312.1 L282.5 311.2 L284.0 311.0 L285.4 310.6 L286.7 310.5 L288.1 310.0 L289.4 309.9 L290.8 309.0 L292.1 309.0 L293.5 309.3 L294.8 309.9 L296.2 310.6 L297.5 310.7 L298.8 311.9 L300.2 312.1 L301.5 312.7 L302.9 313.4 L304.2 313.5 L305.4 313.7 L306.7 315.1 L307.9 316.8 L309.1 316.8 L310.3 318.1 L311.6 318.9 L313.0 320.9 L314.3 322.6 L315.7 323.7 L317.0 324.5 L318.4 326.2 L319.7 327.7 L321.1 329.0 L322.4 330.3 L323.8 331.7 L325.1 333.1 L326.4 334.2 L327.8 335.7 L329.1 337.0 L330.5 338.1 L331.8 338.9 L333.2 339.6 L334.5 341.3 L335.9 342.5 L337.2 342.9 L338.6 345.0 L339.9 345.0 L341.3 345.8 L342.6 347.3 L343.8 347.3 L345.0 348.4 L346.2 348.9 L347.4 349.5 L348.7 349.8 L349.9 350.2 L351.1 350.2 L352.3 351.0 L353.5 350.8 L354.7 351.4 L356.2 351.9 L357.7 353.4 L359.0 353.1 L360.3 352.5 L361.5 351.6 L362.8 351.4 L364.0 350.7 L365.2 350.5 L366.4 349.8 L367.6 348.6 L368.9 348.3 L370.1 347.7 L371.3 345.6 L372.5 345.3 L373.7 344.4 L374.9 343.3 L376.3 341.3 L377.6 339.3 L378.9 337.3 L380.5 331.7 L382.0 327.2 L384.0 317.1 L384.1 313.1" fill="none" stroke="#40cc48" stroke-width="1.4" stroke-linejoin="round"/>
<text stroke="#000" stroke-width="0.3" x="282.5" y="344.6" font-family="Liberation Sans" font-weight="bold" font-size="7.45">NES = -1.74</text>
<text stroke="#000" stroke-width="0.3" x="282.5" y="353.0" font-family="Liberation Sans" font-weight="bold" font-size="7.45">FDR = 0.0</text>
<text stroke="#cc2f3e" stroke-width="0.3" x="280.4" y="385.4" font-family="Liberation Sans" font-size="7.2" fill="#cc2f3e">High in K108E</text>
<text stroke="#2e4a98" stroke-width="0.3" x="385.1" y="385.4" font-family="Liberation Sans" font-size="7.2" fill="#2e4a98" text-anchor="end">Low in K108E</text>
<text stroke="#000" stroke-width="0.3" x="465.2" y="292.7" font-family="Liberation Serif" font-weight="bold" font-size="9.8" text-anchor="middle">Naïve T cell</text>
<text stroke="#000" stroke-width="0.3" x="465.2" y="303.4" font-family="Liberation Serif" font-weight="bold" font-size="9.8" text-anchor="middle">(vs Effector CD8 T cells)</text>
<rect x="413.5" y="306.6" width="103.5" height="69.8" fill="#fff" stroke="#b4b4b4" stroke-width="0.7"/>
<rect x="413.50" y="356.2" width="2.42" height="15.9" fill="rgb(110,110,110)"/>
<rect x="416.04" y="356.2" width="2.35" height="15.9" fill="rgb(42,42,42)"/>
<rect x="419.07" y="356.2" width="1.20" height="15.9" fill="rgb(168,168,168)"/>
<rect x="422.10" y="356.2" width="2.68" height="15.9" fill="rgb(35,35,35)"/>
<rect x="425.13" y="356.2" width="2.20" height="15.9" fill="rgb(51,51,51)"/>
<rect x="428.16" y="356.2" width="2.37" height="15.9" fill="rgb(57,57,57)"/>
<rect x="430.62" y="356.2" width="1.58" height="15.9" fill="rgb(57,57,57)"/>
<rect x="432.19" y="356.2" width="1.48" height="15.9" fill="rgb(109,109,109)"/>
<rect x="434.77" y="356.2" width="0.45" height="15.9" fill="rgb(108,108,108)"/>
<rect x="435.22" y="356.2" width="1.89" height="15.9" fill="rgb(54,54,54)"/>
<rect x="438.65" y="356.2" width="0.61" height="15.9" fill="rgb(54,54,54)"/>
<rect x="439.26" y="356.2" width="1.91" height="15.9" fill="rgb(98,98,98)"/>
<rect x="441.67" y="356.2" width="0.62" height="15.9" fill="rgb(35,35,35)"/>
<rect x="442.29" y="356.2" width="1.69" height="15.9" fill="rgb(185,185,185)"/>
<rect x="460.47" y="356.2" width="1.44" height="15.9" fill="rgb(115,115,115)"/>
<rect x="462.96" y="356.2" width="1.54" height="15.9" fill="rgb(63,63,63)"/>
<rect x="464.50" y="356.2" width="1.97" height="15.9" fill="rgb(138,138,138)"/>
<rect x="467.53" y="356.2" width="1.02" height="15.9" fill="rgb(60,60,60)"/>
<rect x="468.54" y="356.2" width="0.50" height="15.9" fill="rgb(182,182,182)"/>
<rect x="470.97" y="356.2" width="0.50" height="15.9" fill="rgb(182,182,182)"/>
<rect x="472.58" y="356.2" width="3.53" height="15.9" fill="rgb(67,67,67)"/>
<rect x="476.11" y="356.2" width="0.51" height="15.9" fill="rgb(67,67,67)"/>
<rect x="476.62" y="356.2" width="1.27" height="15.9" fill="rgb(109,109,109)"/>
<rect x="479.05" y="356.2" width="0.60" height="15.9" fill="rgb(110,110,110)"/>
<rect x="479.65" y="356.2" width="0.50" height="15.9" fill="rgb(200,200,200)"/>
<rect x="482.07" y="356.2" width="0.61" height="15.9" fill="rgb(174,174,174)"/>
<rect x="482.68" y="356.2" width="2.39" height="15.9" fill="rgb(105,105,105)"/>
<rect x="485.59" y="356.2" width="1.13" height="15.9" fill="rgb(42,42,42)"/>
<rect x="486.72" y="356.2" width="1.37" height="15.9" fill="rgb(47,47,47)"/>
<rect x="489.28" y="356.2" width="1.28" height="15.9" fill="rgb(47,47,47)"/>
<rect x="490.76" y="356.2" width="1.05" height="15.9" fill="rgb(160,160,160)"/>
<rect x="494.07" y="356.2" width="0.73" height="15.9" fill="rgb(160,160,160)"/>
<rect x="494.79" y="356.2" width="3.46" height="15.9" fill="rgb(56,56,56)"/>
<rect x="498.26" y="356.2" width="0.58" height="15.9" fill="rgb(116,116,116)"/>
<rect x="498.83" y="356.2" width="1.75" height="15.9" fill="rgb(68,68,68)"/>
<rect x="501.78" y="356.2" width="1.09" height="15.9" fill="rgb(68,68,68)"/>
<rect x="502.87" y="356.2" width="2.33" height="15.9" fill="rgb(189,189,189)"/>
<rect x="505.31" y="356.2" width="1.60" height="15.9" fill="rgb(189,189,189)"/>
<rect x="506.91" y="356.2" width="1.72" height="15.9" fill="rgb(120,120,120)"/>
<rect x="509.76" y="356.2" width="1.19" height="15.9" fill="rgb(155,155,155)"/>
<rect x="510.95" y="356.2" width="1.04" height="15.9" fill="rgb(65,65,65)"/>
<rect x="513.46" y="356.2" width="0.52" height="15.9" fill="rgb(65,65,65)"/>
<rect x="513.98" y="356.2" width="1.64" height="15.9" fill="rgb(53,53,53)"/>
<rect x="413.5" y="372.1" width="103.5" height="4.2" fill="url(#rk)"/>
<path d="M414.0 354.4 L414.0 335.2 L415.0 321.1 L417.0 314.1 L418.6 311.5 L420.1 310.0 L421.4 309.9 L422.8 309.5 L424.1 309.0 L425.5 309.3 L426.8 309.8 L428.2 310.0 L429.5 309.7 L430.8 309.2 L432.2 309.0 L433.5 309.5 L434.9 309.7 L436.2 310.0 L437.4 310.6 L438.7 311.5 L439.9 311.9 L441.1 312.5 L442.3 313.1 L443.6 314.7 L445.0 315.4 L446.3 316.8 L447.7 317.8 L449.0 318.7 L450.4 320.1 L451.7 321.1 L453.1 321.9 L454.4 323.7 L455.8 324.4 L457.1 325.9 L458.4 327.2 L459.8 328.4 L461.1 330.0 L462.5 331.2 L463.8 331.7 L465.2 333.0 L466.5 334.2 L467.9 334.9 L469.2 336.0 L470.6 337.0 L471.9 338.5 L473.3 339.5 L474.6 340.3 L475.9 340.8 L477.3 341.8 L478.6 342.4 L480.0 343.8 L481.3 344.6 L482.7 345.3 L484.0 345.7 L485.4 346.2 L486.7 346.3 L488.1 347.3 L489.4 347.6 L490.8 348.3 L492.0 348.8 L493.2 348.6 L494.4 349.0 L495.6 349.5 L496.8 349.4 L498.0 349.4 L499.2 349.4 L500.4 349.6 L501.7 349.7 L502.9 349.8 L504.1 349.9 L505.3 350.6 L506.5 350.5 L507.7 350.8 L508.9 351.4 L510.3 352.2 L511.6 351.9 L513.0 352.4 L514.7 352.7 L516.4 353.0" fill="none" stroke="#40cc48" stroke-width="1.4" stroke-linejoin="round"/>
<text stroke="#000" stroke-width="0.3" x="478.1" y="314.8" font-family="Liberation Sans" font-weight="bold" font-size="7.45">NES = 1.86</text>
<text stroke="#000" stroke-width="0.3" x="478.1" y="323.2" font-family="Liberation Sans" font-weight="bold" font-size="7.45">FDR = 0.0</text>
<text stroke="#cc2f3e" stroke-width="0.3" x="413.5" y="385.4" font-family="Liberation Sans" font-size="7.2" fill="#cc2f3e">High in K108E</text>
<text stroke="#2e4a98" stroke-width="0.3" x="517.5" y="385.4" font-family="Liberation Sans" font-size="7.2" fill="#2e4a98" text-anchor="end">Low in K108E</text>
<text stroke="#000" stroke-width="0.3" x="333.3" y="446.0" font-family="Liberation Serif" font-weight="bold" font-size="9.8" text-anchor="middle">Monocyte LPS-activated</text>
<rect x="281.2" y="448.6" width="104.2" height="69.8" fill="#fff" stroke="#b4b4b4" stroke-width="0.7"/>
<line x1="281.2" y1="454.1" x2="385.4" y2="454.1" stroke="#d6d6d6" stroke-width="0.7"/>
<rect x="281.20" y="498.2" width="1.58" height="15.9" fill="rgb(117,117,117)"/>
<rect x="284.03" y="498.2" width="0.97" height="15.9" fill="rgb(166,166,166)"/>
<rect x="286.05" y="498.2" width="1.71" height="15.9" fill="rgb(45,45,45)"/>
<rect x="289.29" y="498.2" width="0.80" height="15.9" fill="rgb(96,96,96)"/>
<rect x="290.09" y="498.2" width="2.40" height="15.9" fill="rgb(68,68,68)"/>
<rect x="292.65" y="498.2" width="0.46" height="15.9" fill="rgb(68,68,68)"/>
<rect x="293.12" y="498.2" width="0.84" height="15.9" fill="rgb(150,150,150)"/>
<rect x="296.15" y="498.2" width="1.79" height="15.9" fill="rgb(111,111,111)"/>
<rect x="299.17" y="498.2" width="0.90" height="15.9" fill="rgb(151,151,151)"/>
<rect x="302.20" y="498.2" width="2.86" height="15.9" fill="rgb(63,63,63)"/>
<rect x="305.34" y="498.2" width="0.91" height="15.9" fill="rgb(110,110,110)"/>
<rect x="306.24" y="498.2" width="1.53" height="15.9" fill="rgb(75,75,75)"/>
<rect x="308.72" y="498.2" width="0.55" height="15.9" fill="rgb(75,75,75)"/>
<rect x="329.47" y="498.2" width="1.34" height="15.9" fill="rgb(59,59,59)"/>
<rect x="332.23" y="498.2" width="0.26" height="15.9" fill="rgb(140,140,140)"/>
<rect x="332.49" y="498.2" width="2.38" height="15.9" fill="rgb(73,73,73)"/>
<rect x="335.52" y="498.2" width="0.95" height="15.9" fill="rgb(169,169,169)"/>
<rect x="338.23" y="498.2" width="0.32" height="15.9" fill="rgb(200,200,200)"/>
<rect x="338.55" y="498.2" width="2.72" height="15.9" fill="rgb(72,72,72)"/>
<rect x="341.58" y="498.2" width="2.82" height="15.9" fill="rgb(99,99,99)"/>
<rect x="344.77" y="498.2" width="0.85" height="15.9" fill="rgb(39,39,39)"/>
<rect x="345.62" y="498.2" width="1.86" height="15.9" fill="rgb(115,115,115)"/>
<rect x="348.20" y="498.2" width="1.46" height="15.9" fill="rgb(35,35,35)"/>
<rect x="349.66" y="498.2" width="2.87" height="15.9" fill="rgb(71,71,71)"/>
<rect x="352.53" y="498.2" width="1.17" height="15.9" fill="rgb(71,71,71)"/>
<rect x="353.70" y="498.2" width="2.18" height="15.9" fill="rgb(62,62,62)"/>
<rect x="356.63" y="498.2" width="1.10" height="15.9" fill="rgb(62,62,62)"/>
<rect x="357.74" y="498.2" width="3.06" height="15.9" fill="rgb(47,47,47)"/>
<rect x="360.81" y="498.2" width="0.96" height="15.9" fill="rgb(47,47,47)"/>
<rect x="361.78" y="498.2" width="2.91" height="15.9" fill="rgb(45,45,45)"/>
<rect x="364.97" y="498.2" width="0.84" height="15.9" fill="rgb(103,103,103)"/>
<rect x="365.81" y="498.2" width="1.73" height="15.9" fill="rgb(69,69,69)"/>
<rect x="368.34" y="498.2" width="1.51" height="15.9" fill="rgb(125,125,125)"/>
<rect x="369.85" y="498.2" width="3.11" height="15.9" fill="rgb(61,61,61)"/>
<rect x="373.01" y="498.2" width="0.88" height="15.9" fill="rgb(61,61,61)"/>
<rect x="373.89" y="498.2" width="1.84" height="15.9" fill="rgb(37,37,37)"/>
<rect x="376.70" y="498.2" width="1.24" height="15.9" fill="rgb(114,114,114)"/>
<rect x="377.93" y="498.2" width="2.38" height="15.9" fill="rgb(105,105,105)"/>
<rect x="380.39" y="498.2" width="1.58" height="15.9" fill="rgb(41,41,41)"/>
<rect x="381.97" y="498.2" width="1.53" height="15.9" fill="rgb(92,92,92)"/>
<rect x="384.49" y="498.2" width="0.91" height="15.9" fill="rgb(46,46,46)"/>
<rect x="281.2" y="514.1" width="104.2" height="4.2" fill="url(#rk)"/>
<path d="M281.7 454.0 L283.4 453.0 L285.0 453.0 L286.4 453.7 L287.7 452.3 L289.1 452.0 L290.4 452.2 L291.8 452.4 L293.1 452.4 L294.6 452.3 L296.1 452.0 L297.7 453.4 L299.2 454.0 L300.5 455.3 L301.9 456.4 L303.2 457.1 L304.4 458.0 L305.6 459.0 L306.8 460.1 L308.1 460.5 L309.3 462.1 L310.6 463.6 L312.0 464.0 L313.3 465.5 L314.7 466.7 L316.0 467.8 L317.3 469.2 L318.7 470.3 L320.0 471.6 L321.4 472.6 L322.7 474.0 L324.1 475.1 L325.4 476.2 L326.8 477.8 L328.1 478.9 L329.5 480.0 L330.8 480.8 L332.2 481.9 L333.5 483.3 L334.9 484.5 L336.2 485.5 L337.5 485.8 L338.9 487.5 L340.2 488.9 L341.6 489.3 L342.8 490.2 L344.0 490.9 L345.2 491.4 L346.4 492.0 L347.6 492.8 L348.9 492.9 L350.1 493.6 L351.3 494.3 L352.5 494.0 L353.7 494.4 L355.0 494.4 L356.4 494.4 L357.7 494.8 L359.3 494.1 L360.8 492.4 L362.3 489.2 L363.8 486.3 L365.3 482.1 L366.8 478.2 L368.2 476.4 L369.5 475.4 L370.9 474.2 L372.2 472.4 L373.6 470.7 L374.9 469.2 L376.2 467.9 L377.4 466.5 L378.7 464.3 L379.9 463.1 L381.3 461.5 L382.6 459.7 L384.0 458.1 L384.9 455.7" fill="none" stroke="#40cc48" stroke-width="1.4" stroke-linejoin="round"/>
<text stroke="#000" stroke-width="0.3" x="283.5" y="487.6" font-family="Liberation Sans" font-weight="bold" font-size="7.45">NES = -1.99</text>
<text stroke="#000" stroke-width="0.3" x="283.5" y="496.0" font-family="Liberation Sans" font-weight="bold" font-size="7.45">FDR = 0.0</text>
<text stroke="#cc2f3e" stroke-width="0.3" x="281.2" y="527.4" font-family="Liberation Sans" font-size="7.2" fill="#cc2f3e">High in K108E</text>
<text stroke="#2e4a98" stroke-width="0.3" x="385.9" y="527.4" font-family="Liberation Sans" font-size="7.2" fill="#2e4a98" text-anchor="end">Low in K108E</text>
<text stroke="#000" stroke-width="0.3" x="465.2" y="435.1" font-family="Liberation Serif" font-weight="bold" font-size="9.8" text-anchor="middle">CD4 Memory T cells</text>
<text stroke="#000" stroke-width="0.3" x="465.2" y="445.8" font-family="Liberation Serif" font-weight="bold" font-size="9.8" text-anchor="middle">(vs Naïve CD4 T cell)</text>
<rect x="413.5" y="449.0" width="103.5" height="69.8" fill="#fff" stroke="#b4b4b4" stroke-width="0.7"/>
<line x1="413.5" y1="453.5" x2="517" y2="453.5" stroke="#d6d6d6" stroke-width="0.7"/>
<rect x="416.04" y="498.6" width="2.49" height="15.9" fill="rgb(188,188,188)"/>
<rect x="418.68" y="498.6" width="0.39" height="15.9" fill="rgb(188,188,188)"/>
<rect x="419.07" y="498.6" width="1.35" height="15.9" fill="rgb(44,44,44)"/>
<rect x="421.63" y="498.6" width="0.47" height="15.9" fill="rgb(44,44,44)"/>
<rect x="422.10" y="498.6" width="2.02" height="15.9" fill="rgb(69,69,69)"/>
<rect x="425.13" y="498.6" width="1.01" height="15.9" fill="rgb(180,180,180)"/>
<rect x="427.65" y="498.6" width="0.50" height="15.9" fill="rgb(180,180,180)"/>
<rect x="428.16" y="498.6" width="2.41" height="15.9" fill="rgb(33,33,33)"/>
<rect x="431.18" y="498.6" width="1.74" height="15.9" fill="rgb(43,43,43)"/>
<rect x="434.21" y="498.6" width="2.77" height="15.9" fill="rgb(140,140,140)"/>
<rect x="437.24" y="498.6" width="1.86" height="15.9" fill="rgb(68,68,68)"/>
<rect x="439.98" y="498.6" width="0.29" height="15.9" fill="rgb(68,68,68)"/>
<rect x="440.27" y="498.6" width="2.20" height="15.9" fill="rgb(56,56,56)"/>
<rect x="443.02" y="498.6" width="1.29" height="15.9" fill="rgb(56,56,56)"/>
<rect x="444.31" y="498.6" width="1.23" height="15.9" fill="rgb(42,42,42)"/>
<rect x="463.49" y="498.6" width="1.47" height="15.9" fill="rgb(30,30,30)"/>
<rect x="466.48" y="498.6" width="1.05" height="15.9" fill="rgb(30,30,30)"/>
<rect x="467.53" y="498.6" width="2.46" height="15.9" fill="rgb(131,131,131)"/>
<rect x="470.56" y="498.6" width="1.59" height="15.9" fill="rgb(59,59,59)"/>
<rect x="473.37" y="498.6" width="0.22" height="15.9" fill="rgb(59,59,59)"/>
<rect x="473.59" y="498.6" width="2.86" height="15.9" fill="rgb(69,69,69)"/>
<rect x="476.62" y="498.6" width="2.01" height="15.9" fill="rgb(66,66,66)"/>
<rect x="479.61" y="498.6" width="1.05" height="15.9" fill="rgb(129,129,129)"/>
<rect x="480.66" y="498.6" width="2.48" height="15.9" fill="rgb(32,32,32)"/>
<rect x="483.33" y="498.6" width="1.37" height="15.9" fill="rgb(32,32,32)"/>
<rect x="484.70" y="498.6" width="1.13" height="15.9" fill="rgb(200,200,200)"/>
<rect x="487.73" y="498.6" width="3.39" height="15.9" fill="rgb(72,72,72)"/>
<rect x="491.12" y="498.6" width="0.64" height="15.9" fill="rgb(72,72,72)"/>
<rect x="491.77" y="498.6" width="3.17" height="15.9" fill="rgb(97,97,97)"/>
<rect x="494.94" y="498.6" width="1.87" height="15.9" fill="rgb(44,44,44)"/>
<rect x="496.81" y="498.6" width="2.58" height="15.9" fill="rgb(62,62,62)"/>
<rect x="499.66" y="498.6" width="1.19" height="15.9" fill="rgb(62,62,62)"/>
<rect x="500.85" y="498.6" width="3.12" height="15.9" fill="rgb(133,133,133)"/>
<rect x="503.97" y="498.6" width="0.92" height="15.9" fill="rgb(65,65,65)"/>
<rect x="504.89" y="498.6" width="1.85" height="15.9" fill="rgb(46,46,46)"/>
<rect x="507.93" y="498.6" width="1.00" height="15.9" fill="rgb(46,46,46)"/>
<rect x="508.93" y="498.6" width="3.23" height="15.9" fill="rgb(42,42,42)"/>
<rect x="512.25" y="498.6" width="0.72" height="15.9" fill="rgb(42,42,42)"/>
<rect x="512.97" y="498.6" width="2.91" height="15.9" fill="rgb(60,60,60)"/>
<rect x="515.94" y="498.6" width="1.06" height="15.9" fill="rgb(149,149,149)"/>
<rect x="413.5" y="514.5" width="103.5" height="4.2" fill="url(#rk)"/>
<path d="M414.0 452.0 L415.5 452.4 L417.0 453.0 L418.6 452.5 L420.1 452.4 L421.4 452.1 L422.8 451.9 L424.1 452.0 L425.5 452.1 L426.8 453.2 L428.2 453.0 L429.5 453.2 L430.8 454.1 L432.2 454.5 L433.5 455.3 L434.9 454.9 L436.2 455.7 L437.4 456.7 L438.7 457.9 L439.9 458.2 L441.1 459.3 L442.3 460.1 L443.6 461.6 L445.0 462.6 L446.3 463.5 L447.7 464.7 L449.0 466.0 L450.4 467.2 L451.7 468.5 L453.1 469.6 L454.4 470.9 L455.8 471.6 L457.1 473.1 L458.4 474.2 L459.8 475.2 L461.1 476.4 L462.5 477.9 L463.8 479.3 L465.2 480.6 L466.5 481.3 L467.7 482.9 L468.9 484.3 L470.2 484.8 L471.4 486.5 L472.6 487.3 L473.8 488.5 L475.0 489.8 L476.2 490.5 L477.4 491.1 L478.6 492.4 L479.9 493.1 L481.2 493.7 L482.4 493.7 L483.7 494.8 L485.0 495.0 L486.2 495.1 L487.5 494.2 L488.7 494.8 L490.1 493.8 L491.4 493.6 L492.8 493.4 L494.1 492.3 L495.5 490.9 L496.8 490.3 L498.1 489.7 L499.3 489.2 L500.6 487.9 L501.9 487.3 L503.1 485.7 L504.4 485.8 L505.6 484.4 L506.9 483.3 L508.3 481.1 L509.6 478.5 L510.9 476.2 L512.5 471.9 L514.0 468.2 L516.0 458.1 L516.4 454.0" fill="none" stroke="#40cc48" stroke-width="1.4" stroke-linejoin="round"/>
<text stroke="#000" stroke-width="0.3" x="416.5" y="487.0" font-family="Liberation Sans" font-weight="bold" font-size="7.45">NES = -1.92</text>
<text stroke="#000" stroke-width="0.3" x="416.5" y="495.4" font-family="Liberation Sans" font-weight="bold" font-size="7.45">FDR = 0.0</text>
<text stroke="#cc2f3e" stroke-width="0.3" x="413.5" y="527.8" font-family="Liberation Sans" font-size="7.2" fill="#cc2f3e">High in K108E</text>
<text stroke="#2e4a98" stroke-width="0.3" x="517.5" y="527.8" font-family="Liberation Sans" font-size="7.2" fill="#2e4a98" text-anchor="end">Low in K108E</text>
<text stroke="#000" stroke-width="0.3" x="334.3" y="577.6" font-family="Liberation Serif" font-weight="bold" font-size="9.8" text-anchor="middle">Plasma cells</text>
<text stroke="#000" stroke-width="0.3" x="334.3" y="588.3" font-family="Liberation Serif" font-weight="bold" font-size="9.8" text-anchor="middle">(vs Memory B cells)</text>
<rect x="282.6" y="591.5" width="103.4" height="69.8" fill="#fff" stroke="#b4b4b4" stroke-width="0.7"/>
<rect x="282.60" y="641.1" width="0.42" height="15.9" fill="rgb(177,177,177)"/>
<rect x="283.02" y="641.1" width="2.62" height="15.9" fill="rgb(48,48,48)"/>
<rect x="285.64" y="641.1" width="1.42" height="15.9" fill="rgb(135,135,135)"/>
<rect x="287.06" y="641.1" width="2.52" height="15.9" fill="rgb(30,30,30)"/>
<rect x="290.09" y="641.1" width="2.28" height="15.9" fill="rgb(121,121,121)"/>
<rect x="293.12" y="641.1" width="2.51" height="15.9" fill="rgb(125,125,125)"/>
<rect x="296.15" y="641.1" width="1.93" height="15.9" fill="rgb(124,124,124)"/>
<rect x="299.17" y="641.1" width="2.94" height="15.9" fill="rgb(144,144,144)"/>
<rect x="302.12" y="641.1" width="1.10" height="15.9" fill="rgb(66,66,66)"/>
<rect x="303.21" y="641.1" width="1.62" height="15.9" fill="rgb(55,55,55)"/>
<rect x="306.24" y="641.1" width="2.09" height="15.9" fill="rgb(31,31,31)"/>
<rect x="308.92" y="641.1" width="1.36" height="15.9" fill="rgb(31,31,31)"/>
<rect x="310.28" y="641.1" width="2.23" height="15.9" fill="rgb(64,64,64)"/>
<rect x="313.26" y="641.1" width="1.06" height="15.9" fill="rgb(64,64,64)"/>
<rect x="314.32" y="641.1" width="2.06" height="15.9" fill="rgb(155,155,155)"/>
<rect x="317.35" y="641.1" width="1.53" height="15.9" fill="rgb(92,92,92)"/>
<rect x="328.46" y="641.1" width="1.95" height="15.9" fill="rgb(122,122,122)"/>
<rect x="331.61" y="641.1" width="0.88" height="15.9" fill="rgb(132,132,132)"/>
<rect x="332.49" y="641.1" width="2.37" height="15.9" fill="rgb(70,70,70)"/>
<rect x="335.00" y="641.1" width="0.53" height="15.9" fill="rgb(70,70,70)"/>
<rect x="335.52" y="641.1" width="1.39" height="15.9" fill="rgb(49,49,49)"/>
<rect x="338.10" y="641.1" width="0.45" height="15.9" fill="rgb(49,49,49)"/>
<rect x="338.55" y="641.1" width="1.31" height="15.9" fill="rgb(118,118,118)"/>
<rect x="341.58" y="641.1" width="0.50" height="15.9" fill="rgb(200,200,200)"/>
<rect x="344.34" y="641.1" width="0.27" height="15.9" fill="rgb(187,187,187)"/>
<rect x="344.61" y="641.1" width="2.12" height="15.9" fill="rgb(70,70,70)"/>
<rect x="348.14" y="641.1" width="0.50" height="15.9" fill="rgb(70,70,70)"/>
<rect x="348.65" y="641.1" width="1.76" height="15.9" fill="rgb(73,73,73)"/>
<rect x="351.17" y="641.1" width="1.51" height="15.9" fill="rgb(73,73,73)"/>
<rect x="352.69" y="641.1" width="1.14" height="15.9" fill="rgb(32,32,32)"/>
<rect x="355.91" y="641.1" width="0.82" height="15.9" fill="rgb(32,32,32)"/>
<rect x="356.73" y="641.1" width="2.09" height="15.9" fill="rgb(44,44,44)"/>
<rect x="360.19" y="641.1" width="0.57" height="15.9" fill="rgb(117,117,117)"/>
<rect x="360.77" y="641.1" width="2.60" height="15.9" fill="rgb(52,52,52)"/>
<rect x="363.78" y="641.1" width="2.03" height="15.9" fill="rgb(118,118,118)"/>
<rect x="365.81" y="641.1" width="2.06" height="15.9" fill="rgb(72,72,72)"/>
<rect x="368.45" y="641.1" width="1.40" height="15.9" fill="rgb(72,72,72)"/>
<rect x="369.85" y="641.1" width="2.32" height="15.9" fill="rgb(93,93,93)"/>
<rect x="372.78" y="641.1" width="1.11" height="15.9" fill="rgb(34,34,34)"/>
<rect x="373.89" y="641.1" width="1.71" height="15.9" fill="rgb(67,67,67)"/>
<rect x="376.42" y="641.1" width="1.51" height="15.9" fill="rgb(67,67,67)"/>
<rect x="377.93" y="641.1" width="1.06" height="15.9" fill="rgb(109,109,109)"/>
<rect x="380.46" y="641.1" width="1.04" height="15.9" fill="rgb(66,66,66)"/>
<rect x="381.97" y="641.1" width="1.65" height="15.9" fill="rgb(70,70,70)"/>
<rect x="384.72" y="641.1" width="1.28" height="15.9" fill="rgb(70,70,70)"/>
<rect x="282.6" y="657.0" width="103.4" height="4.2" fill="url(#rk)"/>
<path d="M283.1 639.4 L283.4 621.2 L285.0 611.2 L287.1 605.1 L288.6 603.3 L290.1 602.1 L291.6 599.9 L293.1 598.1 L294.6 597.0 L296.1 595.0 L297.7 593.2 L299.2 593.4 L300.7 593.5 L302.2 594.0 L303.5 594.3 L304.7 594.9 L306.0 595.2 L307.3 596.0 L308.5 596.9 L309.7 597.9 L310.9 598.5 L312.1 599.8 L313.3 600.1 L314.7 601.4 L316.0 603.0 L317.3 604.3 L318.7 605.4 L320.0 607.5 L321.4 608.1 L322.7 609.3 L324.1 611.2 L325.4 612.4 L326.8 613.7 L328.1 614.6 L329.5 616.2 L330.8 617.5 L332.2 618.9 L333.5 620.2 L334.9 620.6 L336.2 622.0 L337.5 623.3 L338.9 624.5 L340.2 625.7 L341.6 626.2 L342.9 626.6 L344.3 627.4 L345.6 628.3 L347.0 629.2 L348.3 630.0 L349.7 630.9 L351.0 630.8 L352.4 631.6 L353.7 632.3 L355.0 632.5 L356.4 633.1 L357.7 633.4 L359.1 634.0 L360.4 633.8 L361.8 634.3 L363.1 633.9 L364.5 634.6 L365.8 634.8 L367.2 635.3 L368.5 635.4 L369.9 635.4 L371.2 635.7 L372.5 635.8 L373.9 635.5 L375.2 636.5 L376.6 636.4 L377.9 636.4 L379.2 636.5 L380.5 636.9 L381.7 636.7 L383.0 637.0 L384.2 637.5 L385.5 637.0" fill="none" stroke="#40cc48" stroke-width="1.4" stroke-linejoin="round"/>
<text stroke="#000" stroke-width="0.3" x="347.1" y="599.6" font-family="Liberation Sans" font-weight="bold" font-size="7.45">NES = 2.02</text>
<text stroke="#000" stroke-width="0.3" x="347.1" y="608.0" font-family="Liberation Sans" font-weight="bold" font-size="7.45">FDR = 0.0</text>
<text stroke="#cc2f3e" stroke-width="0.3" x="282.6" y="670.3" font-family="Liberation Sans" font-size="7.2" fill="#cc2f3e">High in K108E</text>
<text stroke="#2e4a98" stroke-width="0.3" x="386.5" y="670.3" font-family="Liberation Sans" font-size="7.2" fill="#2e4a98" text-anchor="end">Low in K108E</text>
<text stroke="#000" stroke-width="0.3" x="467.0" y="577.6" font-family="Liberation Serif" font-weight="bold" font-size="9.8" text-anchor="middle">Naïve B cells</text>
<text stroke="#000" stroke-width="0.3" x="467.0" y="588.3" font-family="Liberation Serif" font-weight="bold" font-size="9.8" text-anchor="middle">(vs Plasma cells)</text>
<rect x="415.5" y="591.5" width="103.0" height="69.8" fill="#fff" stroke="#b4b4b4" stroke-width="0.7"/>
<line x1="415.5" y1="597.0" x2="518.5" y2="597.0" stroke="#d6d6d6" stroke-width="0.7"/>
<rect x="416.04" y="641.1" width="2.19" height="15.9" fill="rgb(171,171,171)"/>
<rect x="419.07" y="641.1" width="1.77" height="15.9" fill="rgb(59,59,59)"/>
<rect x="421.49" y="641.1" width="0.61" height="15.9" fill="rgb(59,59,59)"/>
<rect x="422.10" y="641.1" width="2.68" height="15.9" fill="rgb(74,74,74)"/>
<rect x="424.87" y="641.1" width="0.25" height="15.9" fill="rgb(74,74,74)"/>
<rect x="425.13" y="641.1" width="2.37" height="15.9" fill="rgb(157,157,157)"/>
<rect x="428.16" y="641.1" width="2.32" height="15.9" fill="rgb(51,51,51)"/>
<rect x="430.86" y="641.1" width="0.32" height="15.9" fill="rgb(51,51,51)"/>
<rect x="431.18" y="641.1" width="1.00" height="15.9" fill="rgb(200,200,200)"/>
<rect x="433.87" y="641.1" width="0.34" height="15.9" fill="rgb(161,161,161)"/>
<rect x="434.21" y="641.1" width="1.80" height="15.9" fill="rgb(44,44,44)"/>
<rect x="437.24" y="641.1" width="1.14" height="15.9" fill="rgb(185,185,185)"/>
<rect x="439.90" y="641.1" width="0.37" height="15.9" fill="rgb(185,185,185)"/>
<rect x="440.27" y="641.1" width="2.71" height="15.9" fill="rgb(74,74,74)"/>
<rect x="442.98" y="641.1" width="1.33" height="15.9" fill="rgb(74,74,74)"/>
<rect x="444.31" y="641.1" width="1.26" height="15.9" fill="rgb(45,45,45)"/>
<rect x="447.09" y="641.1" width="0.25" height="15.9" fill="rgb(45,45,45)"/>
<rect x="463.49" y="641.1" width="3.29" height="15.9" fill="rgb(74,74,74)"/>
<rect x="466.79" y="641.1" width="0.75" height="15.9" fill="rgb(74,74,74)"/>
<rect x="467.53" y="641.1" width="0.96" height="15.9" fill="rgb(170,170,170)"/>
<rect x="470.25" y="641.1" width="0.31" height="15.9" fill="rgb(170,170,170)"/>
<rect x="470.56" y="641.1" width="1.66" height="15.9" fill="rgb(58,58,58)"/>
<rect x="473.14" y="641.1" width="0.45" height="15.9" fill="rgb(58,58,58)"/>
<rect x="473.59" y="641.1" width="0.88" height="15.9" fill="rgb(150,150,150)"/>
<rect x="476.62" y="641.1" width="1.80" height="15.9" fill="rgb(45,45,45)"/>
<rect x="479.27" y="641.1" width="1.39" height="15.9" fill="rgb(45,45,45)"/>
<rect x="480.66" y="641.1" width="2.14" height="15.9" fill="rgb(85,85,85)"/>
<rect x="483.31" y="641.1" width="1.39" height="15.9" fill="rgb(38,38,38)"/>
<rect x="484.70" y="641.1" width="2.03" height="15.9" fill="rgb(148,148,148)"/>
<rect x="487.68" y="641.1" width="1.05" height="15.9" fill="rgb(68,68,68)"/>
<rect x="488.74" y="641.1" width="2.46" height="15.9" fill="rgb(68,68,68)"/>
<rect x="491.36" y="641.1" width="1.41" height="15.9" fill="rgb(68,68,68)"/>
<rect x="492.78" y="641.1" width="2.18" height="15.9" fill="rgb(70,70,70)"/>
<rect x="495.59" y="641.1" width="1.22" height="15.9" fill="rgb(129,129,129)"/>
<rect x="496.81" y="641.1" width="2.61" height="15.9" fill="rgb(30,30,30)"/>
<rect x="499.89" y="641.1" width="0.97" height="15.9" fill="rgb(30,30,30)"/>
<rect x="500.85" y="641.1" width="2.08" height="15.9" fill="rgb(125,125,125)"/>
<rect x="504.26" y="641.1" width="0.63" height="15.9" fill="rgb(47,47,47)"/>
<rect x="504.89" y="641.1" width="2.72" height="15.9" fill="rgb(58,58,58)"/>
<rect x="507.95" y="641.1" width="0.98" height="15.9" fill="rgb(58,58,58)"/>
<rect x="508.93" y="641.1" width="2.23" height="15.9" fill="rgb(31,31,31)"/>
<rect x="512.43" y="641.1" width="0.54" height="15.9" fill="rgb(31,31,31)"/>
<rect x="512.97" y="641.1" width="2.59" height="15.9" fill="rgb(75,75,75)"/>
<rect x="515.56" y="641.1" width="1.45" height="15.9" fill="rgb(75,75,75)"/>
<rect x="415.5" y="657.0" width="103.0" height="4.2" fill="url(#rk)"/>
<path d="M416.0 597.0 L417.6 597.8 L419.1 599.1 L420.6 599.6 L422.1 599.5 L423.6 598.2 L425.1 597.0 L426.6 596.2 L428.2 595.4 L429.7 594.8 L431.2 594.0 L432.7 595.3 L434.2 596.0 L435.4 597.3 L436.6 597.9 L437.8 599.0 L439.1 600.4 L440.3 601.1 L441.6 602.1 L443.0 603.4 L444.3 604.4 L445.7 605.4 L447.0 606.6 L448.3 608.1 L449.7 609.4 L451.0 610.6 L452.4 610.9 L453.7 612.8 L455.1 614.0 L456.4 615.2 L457.8 615.8 L459.1 617.2 L460.5 618.0 L461.8 619.6 L463.2 620.0 L464.5 621.2 L465.9 622.6 L467.2 622.9 L468.5 624.0 L469.9 625.7 L471.2 626.1 L472.6 627.3 L473.9 628.0 L475.3 628.5 L476.6 629.9 L478.0 631.1 L479.3 631.4 L480.7 632.3 L482.0 632.8 L483.4 633.3 L484.7 633.6 L486.0 634.0 L487.4 634.9 L488.7 635.4 L489.9 635.6 L491.2 635.5 L492.4 635.6 L493.6 636.8 L494.8 637.0 L496.3 636.8 L497.8 637.4 L499.3 636.0 L500.9 634.3 L502.2 633.3 L503.5 631.6 L504.9 630.3 L506.2 628.8 L507.6 626.9 L508.9 626.3 L510.3 624.4 L511.6 621.8 L513.0 619.2 L514.2 615.0 L515.4 611.2 L517.0 603.1 L518.0 597.0" fill="none" stroke="#40cc48" stroke-width="1.4" stroke-linejoin="round"/>
<text stroke="#000" stroke-width="0.3" x="418.0" y="629.2" font-family="Liberation Sans" font-weight="bold" font-size="7.45">NES = -1.91</text>
<text stroke="#000" stroke-width="0.3" x="418.0" y="637.6" font-family="Liberation Sans" font-weight="bold" font-size="7.45">FDR = 0.0</text>
<text stroke="#cc2f3e" stroke-width="0.3" x="415.5" y="670.3" font-family="Liberation Sans" font-size="7.2" fill="#cc2f3e">High in K108E</text>
<text stroke="#2e4a98" stroke-width="0.3" x="519.0" y="670.3" font-family="Liberation Sans" font-size="7.2" fill="#2e4a98" text-anchor="end">Low in K108E</text>
</svg>
</body></html>
